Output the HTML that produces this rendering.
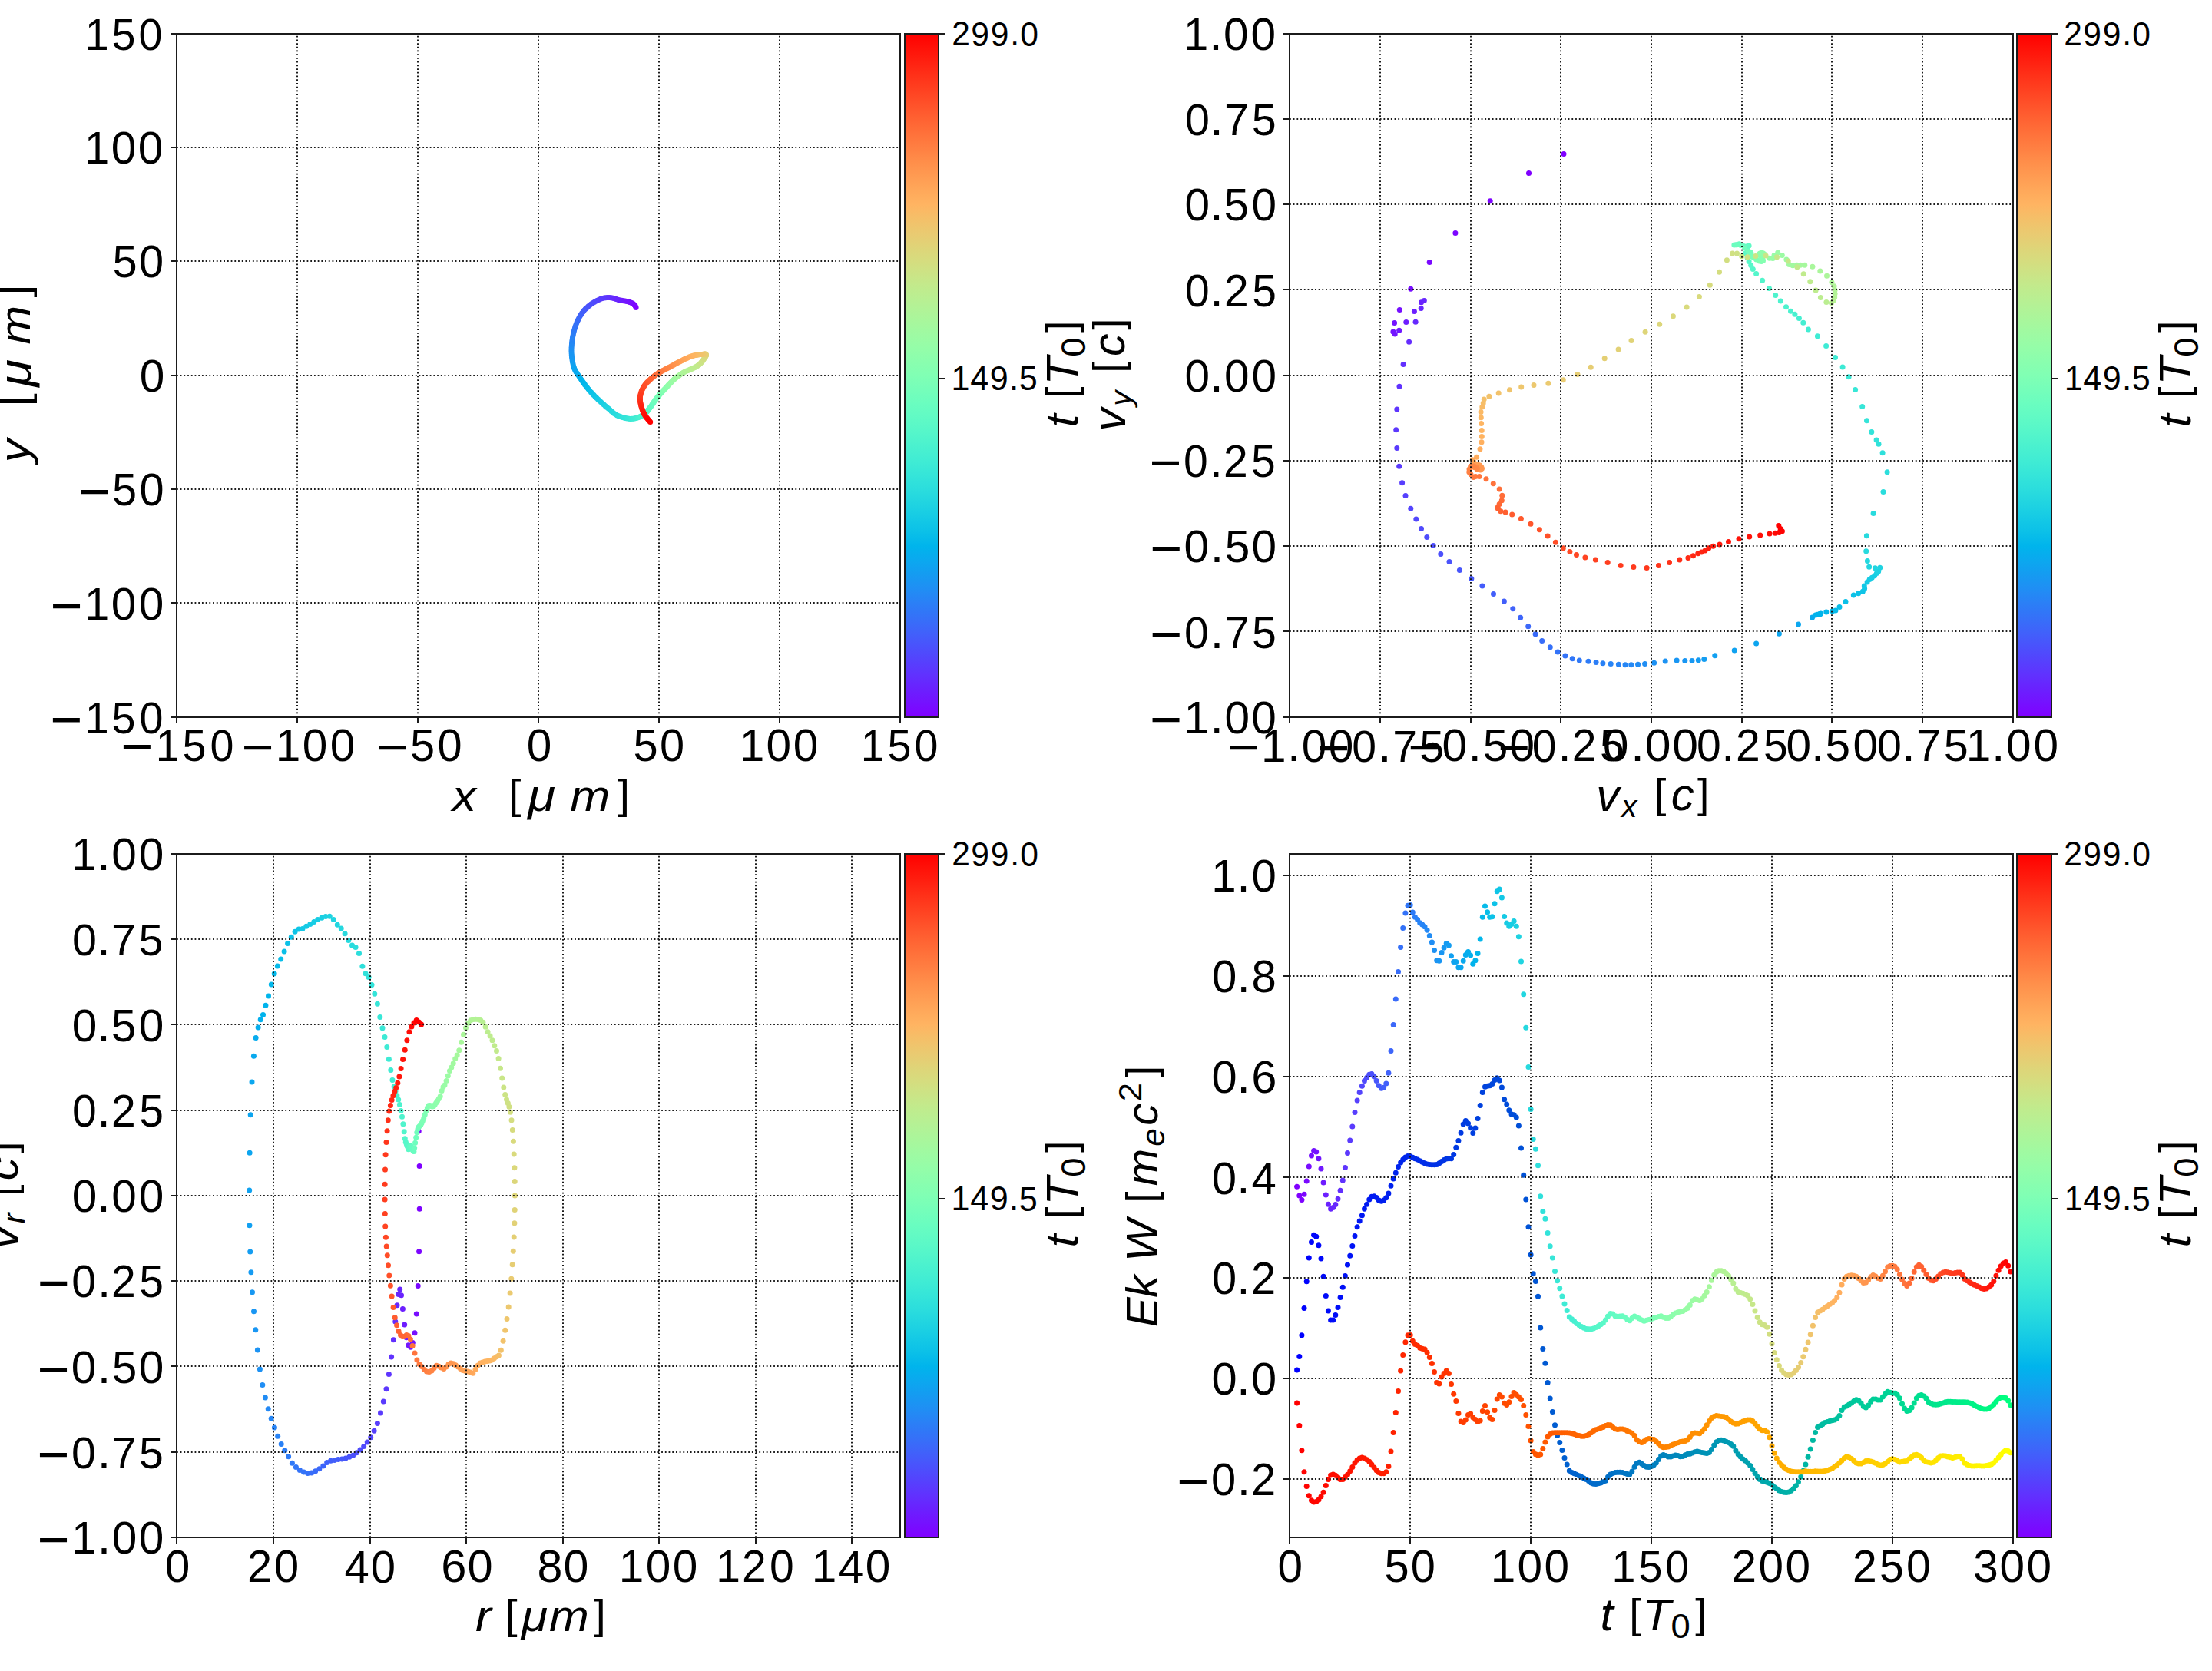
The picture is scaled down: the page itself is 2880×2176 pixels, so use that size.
<!DOCTYPE html>
<html><head><meta charset="utf-8"><title>particle trajectory</title>
<style>html,body{margin:0;padding:0;background:#fff}svg{display:block}</style></head>
<body>
<svg width="2880" height="2176" viewBox="0 0 2880 2176">
<defs>
<linearGradient id="rb" x1="0" y1="0" x2="0" y2="1"><stop offset="0.0000" stop-color="#ff0000"/><stop offset="0.0208" stop-color="#ff1108"/><stop offset="0.0417" stop-color="#ff2111"/><stop offset="0.0625" stop-color="#ff3219"/><stop offset="0.0833" stop-color="#ff4221"/><stop offset="0.1042" stop-color="#ff522a"/><stop offset="0.1250" stop-color="#ff6232"/><stop offset="0.1458" stop-color="#ff713a"/><stop offset="0.1667" stop-color="#ff7f42"/><stop offset="0.1875" stop-color="#ff8e4a"/><stop offset="0.2083" stop-color="#ff9b52"/><stop offset="0.2292" stop-color="#ffa85a"/><stop offset="0.2500" stop-color="#ffb462"/><stop offset="0.2708" stop-color="#f4c069"/><stop offset="0.2917" stop-color="#eaca71"/><stop offset="0.3125" stop-color="#dfd478"/><stop offset="0.3333" stop-color="#d5dd7f"/><stop offset="0.3542" stop-color="#cae587"/><stop offset="0.3750" stop-color="#bfec8e"/><stop offset="0.3958" stop-color="#b5f195"/><stop offset="0.4167" stop-color="#aaf69b"/><stop offset="0.4375" stop-color="#9ffaa2"/><stop offset="0.4583" stop-color="#95fda8"/><stop offset="0.4792" stop-color="#8afeae"/><stop offset="0.5000" stop-color="#80ffb4"/><stop offset="0.5208" stop-color="#75feba"/><stop offset="0.5417" stop-color="#6afdc0"/><stop offset="0.5625" stop-color="#60fac5"/><stop offset="0.5833" stop-color="#55f6ca"/><stop offset="0.6042" stop-color="#4af1cf"/><stop offset="0.6250" stop-color="#40ecd4"/><stop offset="0.6458" stop-color="#35e5d9"/><stop offset="0.6667" stop-color="#2bdddd"/><stop offset="0.6875" stop-color="#20d4e1"/><stop offset="0.7083" stop-color="#15cae5"/><stop offset="0.7292" stop-color="#0bc0e8"/><stop offset="0.7500" stop-color="#00b4ec"/><stop offset="0.7708" stop-color="#0ba8ef"/><stop offset="0.7917" stop-color="#159bf1"/><stop offset="0.8125" stop-color="#208ef4"/><stop offset="0.8333" stop-color="#2b7ff6"/><stop offset="0.8542" stop-color="#3571f8"/><stop offset="0.8750" stop-color="#4062fa"/><stop offset="0.8958" stop-color="#4a52fc"/><stop offset="0.9167" stop-color="#5542fd"/><stop offset="0.9375" stop-color="#6032fe"/><stop offset="0.9583" stop-color="#6a21fe"/><stop offset="0.9792" stop-color="#7511ff"/><stop offset="1.0000" stop-color="#8000ff"/></linearGradient>
<clipPath id="cTL"><rect x="230.4" y="43.5" width="941.7" height="890.2"/></clipPath>
<clipPath id="cTR"><rect x="1679.2" y="43.5" width="941.7" height="890.2"/></clipPath>
<clipPath id="cBL"><rect x="230.4" y="1111.7" width="941.7" height="890.2"/></clipPath>
<clipPath id="cBR"><rect x="1679.2" y="1111.7" width="941.7" height="890.2"/></clipPath>
</defs>
<rect width="2880" height="2176" fill="#fff"/>
<g id="axTL">
<g clip-path="url(#cTL)"><circle cx="828.1" cy="400.5" r="3.5" fill="#8000ff"/><circle cx="827.2" cy="398.6" r="3.5" fill="#8000ff"/><circle cx="825.9" cy="397" r="3.5" fill="#7e03ff"/><circle cx="824.4" cy="395.6" r="3.5" fill="#7c06ff"/><circle cx="822.6" cy="394.5" r="3.5" fill="#7a09ff"/><circle cx="820.6" cy="393.7" r="3.5" fill="#780dff"/><circle cx="818.4" cy="393" r="3.5" fill="#7610ff"/><circle cx="816.2" cy="392.5" r="3.5" fill="#7413ff"/><circle cx="814" cy="392.1" r="3.5" fill="#7413ff"/><circle cx="811.7" cy="391.7" r="3.5" fill="#7216ff"/><circle cx="809.5" cy="391.3" r="3.5" fill="#7019ff"/><circle cx="807.4" cy="390.9" r="3.5" fill="#6e1cff"/><circle cx="805.3" cy="390.4" r="3.5" fill="#6c1fff"/><circle cx="803.3" cy="389.8" r="3.5" fill="#6a22fe"/><circle cx="801.3" cy="389.2" r="3.5" fill="#6826fe"/><circle cx="799.3" cy="388.6" r="3.5" fill="#6826fe"/><circle cx="797.3" cy="388" r="3.5" fill="#6629fe"/><circle cx="795.2" cy="387.7" r="3.5" fill="#642cfe"/><circle cx="793.1" cy="387.5" r="3.5" fill="#622ffe"/><circle cx="790.9" cy="387.5" r="3.5" fill="#6032fe"/><circle cx="788.7" cy="387.7" r="3.5" fill="#5e35fe"/><circle cx="786.5" cy="388" r="3.5" fill="#5c38fd"/><circle cx="784.3" cy="388.6" r="3.5" fill="#5a3bfd"/><circle cx="782.1" cy="389.3" r="3.5" fill="#5a3bfd"/><circle cx="779.9" cy="390.2" r="3.5" fill="#583efd"/><circle cx="777.7" cy="391.2" r="3.5" fill="#5641fd"/><circle cx="775.6" cy="392.3" r="3.5" fill="#5444fd"/><circle cx="773.6" cy="393.5" r="3.5" fill="#5247fc"/><circle cx="771.5" cy="394.8" r="3.5" fill="#504afc"/><circle cx="769.6" cy="396.1" r="3.5" fill="#4e4dfc"/><circle cx="767.7" cy="397.6" r="3.5" fill="#4e4dfc"/><circle cx="765.8" cy="399.1" r="3.5" fill="#4c50fc"/><circle cx="764" cy="400.7" r="3.5" fill="#4a53fb"/><circle cx="762.3" cy="402.3" r="3.5" fill="#4856fb"/><circle cx="760.7" cy="404.1" r="3.5" fill="#4659fb"/><circle cx="759.2" cy="405.9" r="3.5" fill="#445cfb"/><circle cx="757.7" cy="407.7" r="3.5" fill="#425ffa"/><circle cx="756.4" cy="409.7" r="3.5" fill="#425ffa"/><circle cx="755.2" cy="411.6" r="3.5" fill="#4062fa"/><circle cx="754" cy="413.7" r="3.5" fill="#3d65fa"/><circle cx="752.9" cy="415.9" r="3.5" fill="#3c68f9"/><circle cx="751.9" cy="418.1" r="3.5" fill="#396bf9"/><circle cx="750.9" cy="420.3" r="3.5" fill="#386df9"/><circle cx="750" cy="422.7" r="3.5" fill="#3570f8"/><circle cx="749.1" cy="425.1" r="3.5" fill="#3473f8"/><circle cx="748.4" cy="427.5" r="3.5" fill="#3473f8"/><circle cx="747.6" cy="429.9" r="3.5" fill="#3176f8"/><circle cx="747" cy="432.4" r="3.5" fill="#3079f7"/><circle cx="746.4" cy="434.9" r="3.5" fill="#2d7bf7"/><circle cx="745.9" cy="437.4" r="3.5" fill="#2c7ef7"/><circle cx="745.4" cy="439.9" r="3.5" fill="#2981f6"/><circle cx="745.1" cy="442.4" r="3.5" fill="#2884f6"/><circle cx="744.7" cy="444.9" r="3.5" fill="#2884f6"/><circle cx="744.5" cy="447.4" r="3.5" fill="#2586f5"/><circle cx="744.3" cy="449.9" r="3.5" fill="#2489f5"/><circle cx="744.1" cy="452.4" r="3.5" fill="#218cf4"/><circle cx="744" cy="454.9" r="3.5" fill="#208ef4"/><circle cx="744" cy="457.4" r="3.5" fill="#1d91f3"/><circle cx="744.1" cy="459.9" r="3.5" fill="#1c93f3"/><circle cx="744.3" cy="462.4" r="3.5" fill="#1996f3"/><circle cx="744.5" cy="464.9" r="3.5" fill="#1996f3"/><circle cx="744.9" cy="467.4" r="3.5" fill="#1898f2"/><circle cx="745.2" cy="469.8" r="3.5" fill="#159bf2"/><circle cx="745.7" cy="472.3" r="3.5" fill="#149df1"/><circle cx="746.2" cy="474.7" r="3.5" fill="#11a0f1"/><circle cx="746.8" cy="477.2" r="3.5" fill="#10a2f0"/><circle cx="747.6" cy="479.5" r="3.5" fill="#0da5ef"/><circle cx="748.6" cy="481.8" r="3.5" fill="#0da5ef"/><circle cx="749.8" cy="484" r="3.5" fill="#0ca7ef"/><circle cx="751.2" cy="486.1" r="3.5" fill="#09a9ee"/><circle cx="752.6" cy="488.2" r="3.5" fill="#08acee"/><circle cx="754.1" cy="490.3" r="3.5" fill="#05aeed"/><circle cx="755.5" cy="492.4" r="3.5" fill="#04b0ed"/><circle cx="757" cy="494.5" r="3.5" fill="#01b3ec"/><circle cx="758.4" cy="496.5" r="3.5" fill="#01b3ec"/><circle cx="759.9" cy="498.6" r="3.5" fill="#00b5eb"/><circle cx="761.3" cy="500.7" r="3.5" fill="#02b7eb"/><circle cx="762.9" cy="502.7" r="3.5" fill="#05b9ea"/><circle cx="764.5" cy="504.8" r="3.5" fill="#07bbea"/><circle cx="766.1" cy="506.8" r="3.5" fill="#08bee9"/><circle cx="767.7" cy="508.8" r="3.5" fill="#0ac0e8"/><circle cx="769.5" cy="510.7" r="3.5" fill="#0dc2e8"/><circle cx="771.2" cy="512.6" r="3.5" fill="#0dc2e8"/><circle cx="773.1" cy="514.5" r="3.5" fill="#0fc4e7"/><circle cx="774.9" cy="516.4" r="3.5" fill="#10c6e6"/><circle cx="776.8" cy="518.2" r="3.5" fill="#12c8e6"/><circle cx="778.6" cy="520" r="3.5" fill="#15cae5"/><circle cx="780.5" cy="521.8" r="3.5" fill="#17cbe4"/><circle cx="782.4" cy="523.6" r="3.5" fill="#18cde4"/><circle cx="784.3" cy="525.3" r="3.5" fill="#18cde4"/><circle cx="786.3" cy="527.1" r="3.5" fill="#1acfe3"/><circle cx="788.2" cy="528.8" r="3.5" fill="#1dd1e2"/><circle cx="790.2" cy="530.5" r="3.5" fill="#1fd3e1"/><circle cx="792.2" cy="532.1" r="3.5" fill="#20d5e1"/><circle cx="794.1" cy="533.8" r="3.5" fill="#22d6e0"/><circle cx="796" cy="535.4" r="3.5" fill="#25d8df"/><circle cx="797.8" cy="537" r="3.5" fill="#27dade"/><circle cx="799.7" cy="538.5" r="3.5" fill="#27dade"/><circle cx="801.6" cy="539.8" r="3.5" fill="#28dbde"/><circle cx="803.6" cy="540.9" r="3.5" fill="#2adddd"/><circle cx="805.6" cy="541.8" r="3.5" fill="#2ddedc"/><circle cx="807.6" cy="542.6" r="3.5" fill="#2fe0db"/><circle cx="809.6" cy="543.2" r="3.5" fill="#30e1da"/><circle cx="811.6" cy="543.8" r="3.5" fill="#32e3da"/><circle cx="813.5" cy="544.3" r="3.5" fill="#32e3da"/><circle cx="815.4" cy="544.7" r="3.5" fill="#35e4d9"/><circle cx="817.3" cy="545.1" r="3.5" fill="#37e6d8"/><circle cx="819.1" cy="545.3" r="3.5" fill="#38e7d7"/><circle cx="820.8" cy="545.4" r="3.5" fill="#3ae8d6"/><circle cx="822.5" cy="545.3" r="3.5" fill="#3dead5"/><circle cx="824.1" cy="545.2" r="3.5" fill="#3febd5"/><circle cx="825.7" cy="545" r="3.5" fill="#3febd5"/><circle cx="827.2" cy="544.7" r="3.5" fill="#40ecd4"/><circle cx="828.6" cy="544.3" r="3.5" fill="#42edd3"/><circle cx="829.9" cy="543.9" r="3.5" fill="#45eed2"/><circle cx="831.2" cy="543.4" r="3.5" fill="#46efd1"/><circle cx="832.5" cy="542.9" r="3.5" fill="#48f1d0"/><circle cx="833.7" cy="542.4" r="3.5" fill="#4af2cf"/><circle cx="834.9" cy="541.8" r="3.5" fill="#4df3ce"/><circle cx="836" cy="541.2" r="3.5" fill="#4df3ce"/><circle cx="837.1" cy="540.5" r="3.5" fill="#4ef3cd"/><circle cx="838.2" cy="539.8" r="3.5" fill="#50f4cc"/><circle cx="839.2" cy="539" r="3.5" fill="#52f5cb"/><circle cx="840.1" cy="538.2" r="3.5" fill="#55f6cb"/><circle cx="841" cy="537.3" r="3.5" fill="#56f7ca"/><circle cx="841.9" cy="536.3" r="3.5" fill="#58f8c9"/><circle cx="842.7" cy="535.4" r="3.5" fill="#58f8c9"/><circle cx="843.6" cy="534.3" r="3.5" fill="#5af8c8"/><circle cx="844.4" cy="533.3" r="3.5" fill="#5df9c7"/><circle cx="845.2" cy="532.2" r="3.5" fill="#5efac6"/><circle cx="846.1" cy="531.1" r="3.5" fill="#60fac5"/><circle cx="846.9" cy="530" r="3.5" fill="#62fbc4"/><circle cx="847.7" cy="528.9" r="3.5" fill="#65fbc3"/><circle cx="848.5" cy="527.8" r="3.5" fill="#66fcc2"/><circle cx="849.3" cy="526.6" r="3.5" fill="#66fcc2"/><circle cx="850" cy="525.5" r="3.5" fill="#68fcc1"/><circle cx="850.8" cy="524.4" r="3.5" fill="#6afdc0"/><circle cx="851.5" cy="523.2" r="3.5" fill="#6dfdbf"/><circle cx="852.3" cy="522.1" r="3.5" fill="#6efebe"/><circle cx="853.1" cy="521" r="3.5" fill="#70febc"/><circle cx="853.9" cy="519.9" r="3.5" fill="#72febb"/><circle cx="854.7" cy="518.8" r="3.5" fill="#72febb"/><circle cx="855.6" cy="517.8" r="3.5" fill="#75feba"/><circle cx="856.5" cy="516.7" r="3.5" fill="#76ffb9"/><circle cx="857.3" cy="515.7" r="3.5" fill="#78ffb8"/><circle cx="858.2" cy="514.6" r="3.5" fill="#7affb7"/><circle cx="859.1" cy="513.6" r="3.5" fill="#7dffb6"/><circle cx="859.9" cy="512.6" r="3.5" fill="#7effb5"/><circle cx="860.8" cy="511.6" r="3.5" fill="#7effb5"/><circle cx="861.8" cy="510.6" r="3.5" fill="#80ffb4"/><circle cx="862.7" cy="509.6" r="3.5" fill="#82ffb3"/><circle cx="863.7" cy="508.6" r="3.5" fill="#84ffb2"/><circle cx="864.6" cy="507.6" r="3.5" fill="#86ffb0"/><circle cx="865.6" cy="506.6" r="3.5" fill="#89ffaf"/><circle cx="866.6" cy="505.5" r="3.5" fill="#8bfeae"/><circle cx="867.5" cy="504.5" r="3.5" fill="#8cfead"/><circle cx="868.4" cy="503.4" r="3.5" fill="#8cfead"/><circle cx="869.4" cy="502.4" r="3.5" fill="#8efeac"/><circle cx="870.3" cy="501.3" r="3.5" fill="#90feab"/><circle cx="871.3" cy="500.3" r="3.5" fill="#92fda9"/><circle cx="872.3" cy="499.2" r="3.5" fill="#94fda8"/><circle cx="873.3" cy="498.2" r="3.5" fill="#96fca7"/><circle cx="874.3" cy="497.2" r="3.5" fill="#99fca6"/><circle cx="875.4" cy="496.1" r="3.5" fill="#99fca6"/><circle cx="876.5" cy="495.1" r="3.5" fill="#9bfba5"/><circle cx="877.6" cy="494" r="3.5" fill="#9cfba4"/><circle cx="878.7" cy="493" r="3.5" fill="#9efaa2"/><circle cx="879.9" cy="492" r="3.5" fill="#a0faa1"/><circle cx="881.1" cy="491.1" r="3.5" fill="#a2f9a0"/><circle cx="882.4" cy="490.1" r="3.5" fill="#a4f89f"/><circle cx="883.7" cy="489.2" r="3.5" fill="#a6f89d"/><circle cx="885" cy="488.2" r="3.5" fill="#a6f89d"/><circle cx="886.3" cy="487.3" r="3.5" fill="#a9f79c"/><circle cx="887.8" cy="486.3" r="3.5" fill="#abf69b"/><circle cx="889.3" cy="485.5" r="3.5" fill="#acf59a"/><circle cx="890.8" cy="484.6" r="3.5" fill="#aef498"/><circle cx="892.4" cy="483.8" r="3.5" fill="#b0f397"/><circle cx="894" cy="483.1" r="3.5" fill="#b2f396"/><circle cx="895.6" cy="482.4" r="3.5" fill="#b2f396"/><circle cx="897.2" cy="481.7" r="3.5" fill="#b4f295"/><circle cx="898.7" cy="481" r="3.5" fill="#b6f193"/><circle cx="900.3" cy="480.4" r="3.5" fill="#b9ef92"/><circle cx="901.9" cy="479.7" r="3.5" fill="#bbee91"/><circle cx="903.4" cy="479.1" r="3.5" fill="#bced8f"/><circle cx="904.8" cy="478.4" r="3.5" fill="#beec8e"/><circle cx="906.2" cy="477.6" r="3.5" fill="#beec8e"/><circle cx="907.6" cy="476.7" r="3.5" fill="#c0eb8d"/><circle cx="908.9" cy="475.8" r="3.5" fill="#c2ea8c"/><circle cx="910.1" cy="474.9" r="3.5" fill="#c4e88a"/><circle cx="911.2" cy="473.9" r="3.5" fill="#c6e789"/><circle cx="912.3" cy="472.8" r="3.5" fill="#c9e688"/><circle cx="913.2" cy="471.8" r="3.5" fill="#cbe486"/><circle cx="914.1" cy="470.8" r="3.5" fill="#cce385"/><circle cx="914.9" cy="469.7" r="3.5" fill="#cce385"/><circle cx="915.6" cy="468.7" r="3.5" fill="#cee184"/><circle cx="916.4" cy="467.6" r="3.5" fill="#d0e082"/><circle cx="917.1" cy="466.6" r="3.5" fill="#d2de81"/><circle cx="917.7" cy="465.7" r="3.5" fill="#d4dd80"/><circle cx="918.2" cy="464.8" r="3.5" fill="#d6db7e"/><circle cx="918.7" cy="464.1" r="3.5" fill="#d9da7d"/><circle cx="919" cy="463.5" r="3.5" fill="#d9da7d"/><circle cx="919.3" cy="462.9" r="3.5" fill="#dbd87b"/><circle cx="919.4" cy="462.4" r="3.5" fill="#dcd67a"/><circle cx="919.4" cy="462" r="3.5" fill="#ded579"/><circle cx="919.3" cy="461.7" r="3.5" fill="#e0d377"/><circle cx="919.1" cy="461.4" r="3.5" fill="#e2d176"/><circle cx="918.7" cy="461.2" r="3.5" fill="#e4cf74"/><circle cx="918.3" cy="461.1" r="3.5" fill="#e6cd73"/><circle cx="917.7" cy="461.1" r="3.5" fill="#e6cd73"/><circle cx="917" cy="461.1" r="3.5" fill="#e9cb72"/><circle cx="916.2" cy="461.2" r="3.5" fill="#ebca70"/><circle cx="915.2" cy="461.3" r="3.5" fill="#ecc86f"/><circle cx="914.1" cy="461.4" r="3.5" fill="#eec66d"/><circle cx="912.9" cy="461.5" r="3.5" fill="#f0c46c"/><circle cx="911.7" cy="461.6" r="3.5" fill="#f2c26b"/><circle cx="910.3" cy="461.8" r="3.5" fill="#f2c26b"/><circle cx="908.9" cy="462" r="3.5" fill="#f4c069"/><circle cx="907.4" cy="462.2" r="3.5" fill="#f6be68"/><circle cx="906" cy="462.5" r="3.5" fill="#f9bb66"/><circle cx="904.5" cy="462.8" r="3.5" fill="#fbb965"/><circle cx="903" cy="463.1" r="3.5" fill="#fcb763"/><circle cx="901.5" cy="463.5" r="3.5" fill="#feb562"/><circle cx="900" cy="464" r="3.5" fill="#feb562"/><circle cx="898.6" cy="464.5" r="3.5" fill="#ffb360"/><circle cx="897.1" cy="465.1" r="3.5" fill="#ffb05f"/><circle cx="895.6" cy="465.7" r="3.5" fill="#ffae5e"/><circle cx="894.1" cy="466.4" r="3.5" fill="#ffac5c"/><circle cx="892.6" cy="467.1" r="3.5" fill="#ffa95b"/><circle cx="891" cy="467.8" r="3.5" fill="#ffa759"/><circle cx="889.5" cy="468.6" r="3.5" fill="#ffa558"/><circle cx="888" cy="469.4" r="3.5" fill="#ffa558"/><circle cx="886.4" cy="470.2" r="3.5" fill="#ffa256"/><circle cx="884.9" cy="470.9" r="3.5" fill="#ffa055"/><circle cx="883.4" cy="471.7" r="3.5" fill="#ff9d53"/><circle cx="881.9" cy="472.5" r="3.5" fill="#ff9b52"/><circle cx="880.4" cy="473.3" r="3.5" fill="#ff9850"/><circle cx="879" cy="474.1" r="3.5" fill="#ff964f"/><circle cx="877.5" cy="474.9" r="3.5" fill="#ff964f"/><circle cx="876" cy="475.8" r="3.5" fill="#ff934d"/><circle cx="874.5" cy="476.6" r="3.5" fill="#ff914c"/><circle cx="872.9" cy="477.4" r="3.5" fill="#ff8e4a"/><circle cx="871.4" cy="478.2" r="3.5" fill="#ff8c49"/><circle cx="869.9" cy="479" r="3.5" fill="#ff8947"/><circle cx="868.4" cy="479.8" r="3.5" fill="#ff8646"/><circle cx="866.8" cy="480.6" r="3.5" fill="#ff8444"/><circle cx="865.2" cy="481.4" r="3.5" fill="#ff8444"/><circle cx="863.7" cy="482.2" r="3.5" fill="#ff8143"/><circle cx="862.1" cy="483.1" r="3.5" fill="#ff7e41"/><circle cx="860.5" cy="484" r="3.5" fill="#ff7b40"/><circle cx="859" cy="484.8" r="3.5" fill="#ff793e"/><circle cx="857.5" cy="485.7" r="3.5" fill="#ff763d"/><circle cx="856" cy="486.6" r="3.5" fill="#ff733b"/><circle cx="854.6" cy="487.5" r="3.5" fill="#ff733b"/><circle cx="853.3" cy="488.5" r="3.5" fill="#ff703a"/><circle cx="852" cy="489.5" r="3.5" fill="#ff6d38"/><circle cx="850.7" cy="490.6" r="3.5" fill="#ff6b37"/><circle cx="849.4" cy="491.7" r="3.5" fill="#ff6835"/><circle cx="848" cy="492.8" r="3.5" fill="#ff6533"/><circle cx="846.7" cy="494" r="3.5" fill="#ff6232"/><circle cx="845.4" cy="495.2" r="3.5" fill="#ff6232"/><circle cx="844.1" cy="496.4" r="3.5" fill="#ff5f30"/><circle cx="842.9" cy="497.6" r="3.5" fill="#ff5c2f"/><circle cx="841.7" cy="498.8" r="3.5" fill="#ff592d"/><circle cx="840.6" cy="500.1" r="3.5" fill="#ff562c"/><circle cx="839.6" cy="501.4" r="3.5" fill="#ff532a"/><circle cx="838.6" cy="502.8" r="3.5" fill="#ff5029"/><circle cx="837.8" cy="504.2" r="3.5" fill="#ff4d27"/><circle cx="837" cy="505.7" r="3.5" fill="#ff4d27"/><circle cx="836.2" cy="507.2" r="3.5" fill="#ff4a26"/><circle cx="835.6" cy="508.7" r="3.5" fill="#ff4724"/><circle cx="835" cy="510.3" r="3.5" fill="#ff4422"/><circle cx="834.4" cy="511.9" r="3.5" fill="#ff4121"/><circle cx="834" cy="513.5" r="3.5" fill="#ff3e1f"/><circle cx="833.7" cy="515.2" r="3.5" fill="#ff3b1e"/><circle cx="833.5" cy="516.8" r="3.5" fill="#ff3b1e"/><circle cx="833.4" cy="518.5" r="3.5" fill="#ff381c"/><circle cx="833.4" cy="520.2" r="3.5" fill="#ff351b"/><circle cx="833.5" cy="521.8" r="3.5" fill="#ff3219"/><circle cx="833.7" cy="523.4" r="3.5" fill="#ff2f18"/><circle cx="834" cy="525" r="3.5" fill="#ff2c16"/><circle cx="834.3" cy="526.6" r="3.5" fill="#ff2914"/><circle cx="834.7" cy="528.2" r="3.5" fill="#ff2613"/><circle cx="835.1" cy="529.7" r="3.5" fill="#ff2613"/><circle cx="835.6" cy="531.3" r="3.5" fill="#ff2211"/><circle cx="836" cy="532.8" r="3.5" fill="#ff1f10"/><circle cx="836.6" cy="534.3" r="3.5" fill="#ff1c0e"/><circle cx="837.1" cy="535.8" r="3.5" fill="#ff190d"/><circle cx="837.8" cy="537.2" r="3.5" fill="#ff160b"/><circle cx="838.5" cy="538.7" r="3.5" fill="#ff1309"/><circle cx="839.3" cy="540.1" r="3.5" fill="#ff1309"/><circle cx="840.2" cy="541.5" r="3.5" fill="#ff1008"/><circle cx="841.2" cy="542.9" r="3.5" fill="#ff0d06"/><circle cx="842.2" cy="544.2" r="3.5" fill="#ff0905"/><circle cx="843.3" cy="545.6" r="3.5" fill="#ff0603"/><circle cx="844.4" cy="547" r="3.5" fill="#ff0302"/><circle cx="845.6" cy="548.3" r="3.5" fill="#ff0000"/><circle cx="846.7" cy="549.6" r="3.5" fill="#ff0000"/></g>
<g stroke="#1b1b1b" stroke-width="2" stroke-dasharray="1.78 2.93" fill="none"><path d="M387 934V44"/><path d="M544 934V44"/><path d="M701 934V44"/><path d="M858 934V44"/><path d="M1015 934V44"/><path d="M230 785H1172"/><path d="M230 637H1172"/><path d="M230 489H1172"/><path d="M230 340H1172"/><path d="M230 192H1172"/></g>
<g stroke="#1b1b1b" stroke-width="2" fill="none"><path d="M230 934v8"/><path d="M387 934v8"/><path d="M544 934v8"/><path d="M701 934v8"/><path d="M858 934v8"/><path d="M1015 934v8"/><path d="M1172 934v8"/><path d="M230 934h-8"/><path d="M230 785h-8"/><path d="M230 637h-8"/><path d="M230 489h-8"/><path d="M230 340h-8"/><path d="M230 192h-8"/><path d="M230 44h-8"/><rect x="230" y="44" width="942" height="890"/></g>
<rect x="1178" y="44" width="44" height="890" fill="url(#rb)" stroke="#1b1b1b" stroke-width="2"/>
<path d="M1222 44h8M1222 493h8" stroke="#1b1b1b" stroke-width="2" fill="none"/>
</g>
<g id="axTR">
<g clip-path="url(#cTR)"><circle cx="2036" cy="200.4" r="3.5" fill="#8000ff"/><circle cx="1990.5" cy="225.6" r="3.5" fill="#8000ff"/><circle cx="1940.2" cy="261.8" r="3.5" fill="#7e03ff"/><circle cx="1894.9" cy="303.4" r="3.5" fill="#7c06ff"/><circle cx="1861.2" cy="341.4" r="3.5" fill="#7a09ff"/><circle cx="1836.8" cy="376.2" r="3.5" fill="#780dff"/><circle cx="1822.3" cy="403.4" r="3.5" fill="#7610ff"/><circle cx="1815.6" cy="420.5" r="3.5" fill="#7413ff"/><circle cx="1813.9" cy="431.9" r="3.5" fill="#7413ff"/><circle cx="1816.2" cy="435.1" r="3.5" fill="#7216ff"/><circle cx="1821.7" cy="430.3" r="3.5" fill="#7019ff"/><circle cx="1830.8" cy="419.6" r="3.5" fill="#6e1cff"/><circle cx="1841.4" cy="405.4" r="3.5" fill="#6c1fff"/><circle cx="1850.5" cy="393.7" r="3.5" fill="#6a22fe"/><circle cx="1854.3" cy="391.6" r="3.5" fill="#6826fe"/><circle cx="1850.2" cy="401.6" r="3.5" fill="#6826fe"/><circle cx="1843.1" cy="419.3" r="3.5" fill="#6629fe"/><circle cx="1834.6" cy="445.2" r="3.5" fill="#642cfe"/><circle cx="1827.1" cy="474.4" r="3.5" fill="#622ffe"/><circle cx="1822" cy="503.2" r="3.5" fill="#6032fe"/><circle cx="1818.8" cy="533" r="3.5" fill="#5e35fe"/><circle cx="1817.7" cy="559.8" r="3.5" fill="#5c38fd"/><circle cx="1818.8" cy="583.6" r="3.5" fill="#5a3bfd"/><circle cx="1821.7" cy="607.2" r="3.5" fill="#5a3bfd"/><circle cx="1825.6" cy="628.7" r="3.5" fill="#583efd"/><circle cx="1830" cy="645.6" r="3.5" fill="#5641fd"/><circle cx="1836.8" cy="662.3" r="3.5" fill="#5444fd"/><circle cx="1843.8" cy="676.1" r="3.5" fill="#5247fc"/><circle cx="1850.5" cy="688.4" r="3.5" fill="#504afc"/><circle cx="1857.8" cy="699.5" r="3.5" fill="#4e4dfc"/><circle cx="1866.1" cy="710.4" r="3.5" fill="#4e4dfc"/><circle cx="1875.8" cy="721.5" r="3.5" fill="#4c50fc"/><circle cx="1887" cy="731.5" r="3.5" fill="#4a53fb"/><circle cx="1900.4" cy="742.4" r="3.5" fill="#4856fb"/><circle cx="1915.8" cy="753.4" r="3.5" fill="#4659fb"/><circle cx="1929.9" cy="763" r="3.5" fill="#445cfb"/><circle cx="1944.5" cy="773.4" r="3.5" fill="#425ffa"/><circle cx="1958.4" cy="783" r="3.5" fill="#425ffa"/><circle cx="1969.8" cy="792.7" r="3.5" fill="#4062fa"/><circle cx="1979.6" cy="804.3" r="3.5" fill="#3d65fa"/><circle cx="1989.7" cy="815.7" r="3.5" fill="#3c68f9"/><circle cx="1999.1" cy="825.7" r="3.5" fill="#396bf9"/><circle cx="2007.7" cy="834.6" r="3.5" fill="#386df9"/><circle cx="2018.3" cy="842.7" r="3.5" fill="#3570f8"/><circle cx="2028.3" cy="848.9" r="3.5" fill="#3473f8"/><circle cx="2037.9" cy="854" r="3.5" fill="#3473f8"/><circle cx="2047.2" cy="857.7" r="3.5" fill="#3176f8"/><circle cx="2056.3" cy="860" r="3.5" fill="#3079f7"/><circle cx="2068" cy="861.2" r="3.5" fill="#2d7bf7"/><circle cx="2078.1" cy="862.6" r="3.5" fill="#2c7ef7"/><circle cx="2086.9" cy="863.7" r="3.5" fill="#2981f6"/><circle cx="2097.2" cy="864.6" r="3.5" fill="#2884f6"/><circle cx="2107.4" cy="865.3" r="3.5" fill="#2884f6"/><circle cx="2116" cy="865.8" r="3.5" fill="#2586f5"/><circle cx="2123.8" cy="865.7" r="3.5" fill="#2489f5"/><circle cx="2132.6" cy="865.3" r="3.5" fill="#218cf4"/><circle cx="2141.6" cy="864.6" r="3.5" fill="#208ef4"/><circle cx="2153.6" cy="863.3" r="3.5" fill="#1d91f3"/><circle cx="2168.2" cy="861" r="3.5" fill="#1c93f3"/><circle cx="2183.1" cy="860.1" r="3.5" fill="#1996f3"/><circle cx="2193.8" cy="860.6" r="3.5" fill="#1996f3"/><circle cx="2203" cy="860.4" r="3.5" fill="#1898f2"/><circle cx="2211.3" cy="859.8" r="3.5" fill="#159bf2"/><circle cx="2218.8" cy="858.4" r="3.5" fill="#149df1"/><circle cx="2232.8" cy="853.8" r="3.5" fill="#11a0f1"/><circle cx="2258.2" cy="847" r="3.5" fill="#10a2f0"/><circle cx="2286.6" cy="838.1" r="3.5" fill="#0da5ef"/><circle cx="2316.4" cy="825.3" r="3.5" fill="#0da5ef"/><circle cx="2341.5" cy="813" r="3.5" fill="#0ca7ef"/><circle cx="2359.6" cy="804.1" r="3.5" fill="#09a9ee"/><circle cx="2369.6" cy="799.4" r="3.5" fill="#08acee"/><circle cx="2370.6" cy="799" r="3.5" fill="#05aeed"/><circle cx="2368.9" cy="799.7" r="3.5" fill="#04b0ed"/><circle cx="2363.8" cy="801" r="3.5" fill="#01b3ec"/><circle cx="2366.2" cy="800.3" r="3.5" fill="#01b3ec"/><circle cx="2369.9" cy="799.4" r="3.5" fill="#00b5eb"/><circle cx="2377.8" cy="796.9" r="3.5" fill="#02b7eb"/><circle cx="2385.8" cy="795.8" r="3.5" fill="#05b9ea"/><circle cx="2389.9" cy="795" r="3.5" fill="#07bbea"/><circle cx="2395" cy="790.4" r="3.5" fill="#08bee9"/><circle cx="2403" cy="783.4" r="3.5" fill="#0ac0e8"/><circle cx="2413.3" cy="775" r="3.5" fill="#0dc2e8"/><circle cx="2419.6" cy="772.7" r="3.5" fill="#0dc2e8"/><circle cx="2425.3" cy="770.3" r="3.5" fill="#0fc4e7"/><circle cx="2427.6" cy="766.6" r="3.5" fill="#10c6e6"/><circle cx="2427.3" cy="763" r="3.5" fill="#12c8e6"/><circle cx="2431.1" cy="758.1" r="3.5" fill="#15cae5"/><circle cx="2434.2" cy="754.6" r="3.5" fill="#17cbe4"/><circle cx="2437.3" cy="752.3" r="3.5" fill="#18cde4"/><circle cx="2440.7" cy="749.7" r="3.5" fill="#18cde4"/><circle cx="2443.4" cy="746.6" r="3.5" fill="#1acfe3"/><circle cx="2445.7" cy="744.1" r="3.5" fill="#1dd1e2"/><circle cx="2447.7" cy="739.2" r="3.5" fill="#1fd3e1"/><circle cx="2441.4" cy="739.7" r="3.5" fill="#20d5e1"/><circle cx="2433.6" cy="738.3" r="3.5" fill="#22d6e0"/><circle cx="2431.4" cy="730.4" r="3.5" fill="#25d8df"/><circle cx="2429.7" cy="717.8" r="3.5" fill="#27dade"/><circle cx="2430.4" cy="697.8" r="3.5" fill="#27dade"/><circle cx="2439.1" cy="668.4" r="3.5" fill="#28dbde"/><circle cx="2452" cy="640.5" r="3.5" fill="#2adddd"/><circle cx="2457.1" cy="614.8" r="3.5" fill="#2ddedc"/><circle cx="2451.1" cy="589.8" r="3.5" fill="#2fe0db"/><circle cx="2446" cy="578.2" r="3.5" fill="#30e1da"/><circle cx="2443.1" cy="572.9" r="3.5" fill="#32e3da"/><circle cx="2436.8" cy="562.4" r="3.5" fill="#32e3da"/><circle cx="2430.5" cy="547.8" r="3.5" fill="#35e4d9"/><circle cx="2424.7" cy="529.5" r="3.5" fill="#37e6d8"/><circle cx="2415.6" cy="507.6" r="3.5" fill="#38e7d7"/><circle cx="2407.1" cy="490.7" r="3.5" fill="#3ae8d6"/><circle cx="2399.1" cy="478.1" r="3.5" fill="#3dead5"/><circle cx="2389.5" cy="465.6" r="3.5" fill="#3febd5"/><circle cx="2377.6" cy="450.4" r="3.5" fill="#3febd5"/><circle cx="2366.4" cy="437.8" r="3.5" fill="#40ecd4"/><circle cx="2354.4" cy="429.1" r="3.5" fill="#42edd3"/><circle cx="2347.8" cy="420.3" r="3.5" fill="#45eed2"/><circle cx="2342.4" cy="414.5" r="3.5" fill="#46efd1"/><circle cx="2336.9" cy="409.3" r="3.5" fill="#48f1d0"/><circle cx="2331.5" cy="405.3" r="3.5" fill="#4af2cf"/><circle cx="2325.5" cy="399.7" r="3.5" fill="#4df3ce"/><circle cx="2318.3" cy="392" r="3.5" fill="#4df3ce"/><circle cx="2311.7" cy="384.4" r="3.5" fill="#4ef3cd"/><circle cx="2303.4" cy="375.4" r="3.5" fill="#50f4cc"/><circle cx="2294.6" cy="365.3" r="3.5" fill="#52f5cb"/><circle cx="2286.6" cy="356.5" r="3.5" fill="#55f6cb"/><circle cx="2282.3" cy="350.4" r="3.5" fill="#56f7ca"/><circle cx="2279.7" cy="345.4" r="3.5" fill="#58f8c9"/><circle cx="2277.1" cy="340.4" r="3.5" fill="#58f8c9"/><circle cx="2275.1" cy="335.7" r="3.5" fill="#5af8c8"/><circle cx="2272.4" cy="330.1" r="3.5" fill="#5df9c7"/><circle cx="2274.5" cy="324.3" r="3.5" fill="#5efac6"/><circle cx="2277.1" cy="320.1" r="3.5" fill="#60fac5"/><circle cx="2274.9" cy="320.7" r="3.5" fill="#62fbc4"/><circle cx="2271.7" cy="321.1" r="3.5" fill="#65fbc3"/><circle cx="2268.4" cy="319.2" r="3.5" fill="#66fcc2"/><circle cx="2264.4" cy="317.8" r="3.5" fill="#66fcc2"/><circle cx="2260.4" cy="318.7" r="3.5" fill="#68fcc1"/><circle cx="2257.9" cy="319.1" r="3.5" fill="#6afdc0"/><circle cx="2261.5" cy="318.7" r="3.5" fill="#6dfdbf"/><circle cx="2266.6" cy="319.6" r="3.5" fill="#6efebe"/><circle cx="2271.7" cy="322.9" r="3.5" fill="#70febc"/><circle cx="2276" cy="327.2" r="3.5" fill="#72febb"/><circle cx="2278.9" cy="328.3" r="3.5" fill="#72febb"/><circle cx="2280" cy="330.1" r="3.5" fill="#75feba"/><circle cx="2279.2" cy="331.9" r="3.5" fill="#76ffb9"/><circle cx="2278.9" cy="333.4" r="3.5" fill="#78ffb8"/><circle cx="2280" cy="333.7" r="3.5" fill="#7affb7"/><circle cx="2281.8" cy="334.4" r="3.5" fill="#7dffb6"/><circle cx="2284" cy="335.9" r="3.5" fill="#7effb5"/><circle cx="2286.8" cy="338.1" r="3.5" fill="#7effb5"/><circle cx="2290.5" cy="339.9" r="3.5" fill="#80ffb4"/><circle cx="2293.4" cy="340.6" r="3.5" fill="#82ffb3"/><circle cx="2295.5" cy="339.5" r="3.5" fill="#84ffb2"/><circle cx="2294.8" cy="337.3" r="3.5" fill="#86ffb0"/><circle cx="2293" cy="335.2" r="3.5" fill="#89ffaf"/><circle cx="2291.2" cy="332.6" r="3.5" fill="#8bfeae"/><circle cx="2290.5" cy="330.8" r="3.5" fill="#8cfead"/><circle cx="2291.5" cy="330" r="3.5" fill="#8cfead"/><circle cx="2293" cy="329.5" r="3.5" fill="#8efeac"/><circle cx="2294.4" cy="329.5" r="3.5" fill="#90feab"/><circle cx="2295.9" cy="330.1" r="3.5" fill="#92fda9"/><circle cx="2297.7" cy="331.6" r="3.5" fill="#94fda8"/><circle cx="2303.8" cy="336.3" r="3.5" fill="#96fca7"/><circle cx="2308.2" cy="336.6" r="3.5" fill="#99fca6"/><circle cx="2310" cy="332.6" r="3.5" fill="#99fca6"/><circle cx="2314.7" cy="329" r="3.5" fill="#9bfba5"/><circle cx="2320.3" cy="332.4" r="3.5" fill="#9cfba4"/><circle cx="2325.9" cy="338.1" r="3.5" fill="#9efaa2"/><circle cx="2329.5" cy="344.6" r="3.5" fill="#a0faa1"/><circle cx="2334.2" cy="345.7" r="3.5" fill="#a2f9a0"/><circle cx="2339.7" cy="345.3" r="3.5" fill="#a4f89f"/><circle cx="2344" cy="345.2" r="3.5" fill="#a6f89d"/><circle cx="2349.8" cy="345.2" r="3.5" fill="#a6f89d"/><circle cx="2359.9" cy="347.3" r="3.5" fill="#a9f79c"/><circle cx="2369.8" cy="352.9" r="3.5" fill="#abf69b"/><circle cx="2378.5" cy="359.3" r="3.5" fill="#acf59a"/><circle cx="2384.9" cy="367.6" r="3.5" fill="#aef498"/><circle cx="2388.1" cy="372.8" r="3.5" fill="#b0f397"/><circle cx="2389.1" cy="377.7" r="3.5" fill="#b2f396"/><circle cx="2389.1" cy="382.6" r="3.5" fill="#b2f396"/><circle cx="2388.7" cy="386.9" r="3.5" fill="#b4f295"/><circle cx="2387.6" cy="391.1" r="3.5" fill="#b6f193"/><circle cx="2384.5" cy="394.5" r="3.5" fill="#b9ef92"/><circle cx="2377.9" cy="393.4" r="3.5" fill="#bbee91"/><circle cx="2370.4" cy="387.5" r="3.5" fill="#bced8f"/><circle cx="2364.1" cy="377.9" r="3.5" fill="#beec8e"/><circle cx="2356.8" cy="366.7" r="3.5" fill="#beec8e"/><circle cx="2348.2" cy="356.7" r="3.5" fill="#c0eb8d"/><circle cx="2339.9" cy="347.7" r="3.5" fill="#c2ea8c"/><circle cx="2328.2" cy="340" r="3.5" fill="#c4e88a"/><circle cx="2313.5" cy="334.7" r="3.5" fill="#c6e789"/><circle cx="2299.1" cy="333" r="3.5" fill="#c9e688"/><circle cx="2285.8" cy="333.4" r="3.5" fill="#cbe486"/><circle cx="2275.1" cy="334.8" r="3.5" fill="#cce385"/><circle cx="2267.7" cy="333.7" r="3.5" fill="#cce385"/><circle cx="2261.5" cy="329.9" r="3.5" fill="#cee184"/><circle cx="2255.6" cy="330.1" r="3.5" fill="#d0e082"/><circle cx="2248.4" cy="338.8" r="3.5" fill="#d2de81"/><circle cx="2238.5" cy="354.2" r="3.5" fill="#d4dd80"/><circle cx="2226.3" cy="371.3" r="3.5" fill="#d6db7e"/><circle cx="2212.4" cy="386.4" r="3.5" fill="#d9da7d"/><circle cx="2196.1" cy="400" r="3.5" fill="#d9da7d"/><circle cx="2178.4" cy="411.7" r="3.5" fill="#dbd87b"/><circle cx="2160.7" cy="422.2" r="3.5" fill="#dcd67a"/><circle cx="2142.1" cy="432.3" r="3.5" fill="#ded579"/><circle cx="2124" cy="443.6" r="3.5" fill="#e0d377"/><circle cx="2107.1" cy="454.9" r="3.5" fill="#e2d176"/><circle cx="2089.2" cy="466.7" r="3.5" fill="#e4cf74"/><circle cx="2071.2" cy="478.3" r="3.5" fill="#e6cd73"/><circle cx="2053.9" cy="487.5" r="3.5" fill="#e6cd73"/><circle cx="2035.3" cy="494.7" r="3.5" fill="#e9cb72"/><circle cx="2015.9" cy="499.3" r="3.5" fill="#ebca70"/><circle cx="1997" cy="501.5" r="3.5" fill="#ecc86f"/><circle cx="1980.7" cy="503.9" r="3.5" fill="#eec66d"/><circle cx="1965.5" cy="507.8" r="3.5" fill="#f0c46c"/><circle cx="1951.2" cy="512.1" r="3.5" fill="#f2c26b"/><circle cx="1938.9" cy="516.2" r="3.5" fill="#f2c26b"/><circle cx="1932.2" cy="520.1" r="3.5" fill="#f4c069"/><circle cx="1931.2" cy="525" r="3.5" fill="#f6be68"/><circle cx="1929.8" cy="529.9" r="3.5" fill="#f9bb66"/><circle cx="1928.1" cy="536.4" r="3.5" fill="#fbb965"/><circle cx="1928.3" cy="543.8" r="3.5" fill="#fcb763"/><circle cx="1928.6" cy="551.6" r="3.5" fill="#feb562"/><circle cx="1929.2" cy="560.4" r="3.5" fill="#feb562"/><circle cx="1929.3" cy="568.5" r="3.5" fill="#ffb360"/><circle cx="1929" cy="575.8" r="3.5" fill="#ffb05f"/><circle cx="1927" cy="584.7" r="3.5" fill="#ffae5e"/><circle cx="1922.6" cy="595.2" r="3.5" fill="#ffac5c"/><circle cx="1917.3" cy="598.7" r="3.5" fill="#ffa95b"/><circle cx="1918.8" cy="601.6" r="3.5" fill="#ffa759"/><circle cx="1919.6" cy="603.8" r="3.5" fill="#ffa558"/><circle cx="1920" cy="605.4" r="3.5" fill="#ffa558"/><circle cx="1921" cy="606.1" r="3.5" fill="#ffa256"/><circle cx="1922.6" cy="605.5" r="3.5" fill="#ffa055"/><circle cx="1924.8" cy="605.4" r="3.5" fill="#ff9d53"/><circle cx="1926.9" cy="606" r="3.5" fill="#ff9b52"/><circle cx="1928.8" cy="608.2" r="3.5" fill="#ff9850"/><circle cx="1929.4" cy="610.3" r="3.5" fill="#ff964f"/><circle cx="1927.5" cy="612" r="3.5" fill="#ff964f"/><circle cx="1923.2" cy="610.9" r="3.5" fill="#ff934d"/><circle cx="1919.9" cy="608.7" r="3.5" fill="#ff914c"/><circle cx="1921" cy="608.2" r="3.5" fill="#ff8e4a"/><circle cx="1922.6" cy="609.2" r="3.5" fill="#ff8c49"/><circle cx="1923.2" cy="609.9" r="3.5" fill="#ff8947"/><circle cx="1918.8" cy="607.1" r="3.5" fill="#ff8646"/><circle cx="1914.7" cy="607.3" r="3.5" fill="#ff8444"/><circle cx="1913" cy="610.9" r="3.5" fill="#ff8444"/><circle cx="1912.8" cy="614.7" r="3.5" fill="#ff8143"/><circle cx="1915" cy="617.7" r="3.5" fill="#ff7e41"/><circle cx="1918.5" cy="621.5" r="3.5" fill="#ff7b40"/><circle cx="1921" cy="620.4" r="3.5" fill="#ff793e"/><circle cx="1926" cy="620.4" r="3.5" fill="#ff763d"/><circle cx="1935" cy="623.8" r="3.5" fill="#ff733b"/><circle cx="1944.3" cy="629.8" r="3.5" fill="#ff733b"/><circle cx="1952.2" cy="637" r="3.5" fill="#ff703a"/><circle cx="1955.8" cy="645.3" r="3.5" fill="#ff6d38"/><circle cx="1955.3" cy="651.7" r="3.5" fill="#ff6b37"/><circle cx="1952.1" cy="656.6" r="3.5" fill="#ff6835"/><circle cx="1950" cy="660.8" r="3.5" fill="#ff6533"/><circle cx="1950.4" cy="662.3" r="3.5" fill="#ff6232"/><circle cx="1953.9" cy="665.7" r="3.5" fill="#ff6232"/><circle cx="1960.1" cy="666.9" r="3.5" fill="#ff5f30"/><circle cx="1968.7" cy="670" r="3.5" fill="#ff5c2f"/><circle cx="1980.4" cy="675.4" r="3.5" fill="#ff592d"/><circle cx="1993" cy="682.3" r="3.5" fill="#ff562c"/><circle cx="2004.4" cy="689.8" r="3.5" fill="#ff532a"/><circle cx="2015.1" cy="698" r="3.5" fill="#ff5029"/><circle cx="2025.4" cy="706.3" r="3.5" fill="#ff4d27"/><circle cx="2035.3" cy="713.8" r="3.5" fill="#ff4d27"/><circle cx="2043.9" cy="718.6" r="3.5" fill="#ff4a26"/><circle cx="2052.5" cy="722.4" r="3.5" fill="#ff4724"/><circle cx="2063.9" cy="726.1" r="3.5" fill="#ff4422"/><circle cx="2077.4" cy="729.1" r="3.5" fill="#ff4121"/><circle cx="2093.2" cy="732.4" r="3.5" fill="#ff3e1f"/><circle cx="2110.1" cy="736.4" r="3.5" fill="#ff3b1e"/><circle cx="2126.9" cy="738.4" r="3.5" fill="#ff3b1e"/><circle cx="2144.1" cy="739.5" r="3.5" fill="#ff381c"/><circle cx="2159.5" cy="736.4" r="3.5" fill="#ff351b"/><circle cx="2173.5" cy="732.4" r="3.5" fill="#ff3219"/><circle cx="2186.8" cy="729.1" r="3.5" fill="#ff2f18"/><circle cx="2197.9" cy="726.4" r="3.5" fill="#ff2c16"/><circle cx="2204.5" cy="723.7" r="3.5" fill="#ff2914"/><circle cx="2210.8" cy="720.7" r="3.5" fill="#ff2613"/><circle cx="2215.4" cy="718.9" r="3.5" fill="#ff2613"/><circle cx="2220" cy="717.1" r="3.5" fill="#ff2211"/><circle cx="2224.7" cy="713.8" r="3.5" fill="#ff1f10"/><circle cx="2230.5" cy="711.2" r="3.5" fill="#ff1c0e"/><circle cx="2239" cy="708.9" r="3.5" fill="#ff190d"/><circle cx="2250.5" cy="705.5" r="3.5" fill="#ff160b"/><circle cx="2264" cy="701.8" r="3.5" fill="#ff1309"/><circle cx="2277.7" cy="699.1" r="3.5" fill="#ff1309"/><circle cx="2291.7" cy="696.9" r="3.5" fill="#ff1008"/><circle cx="2304" cy="695.1" r="3.5" fill="#ff0d06"/><circle cx="2311.2" cy="694.3" r="3.5" fill="#ff0905"/><circle cx="2316.3" cy="693.5" r="3.5" fill="#ff0603"/><circle cx="2320.4" cy="691.8" r="3.5" fill="#ff0302"/><circle cx="2318.1" cy="688.4" r="3.5" fill="#ff0000"/><circle cx="2315.8" cy="684.6" r="3.5" fill="#ff0000"/></g>
<g stroke="#1b1b1b" stroke-width="2" stroke-dasharray="1.78 2.93" fill="none"><path d="M1797 934V44"/><path d="M1915 934V44"/><path d="M2032 934V44"/><path d="M2150 934V44"/><path d="M2268 934V44"/><path d="M2385 934V44"/><path d="M2503 934V44"/><path d="M1679 822H2621"/><path d="M1679 711H2621"/><path d="M1679 600H2621"/><path d="M1679 489H2621"/><path d="M1679 377H2621"/><path d="M1679 266H2621"/><path d="M1679 155H2621"/></g>
<g stroke="#1b1b1b" stroke-width="2" fill="none"><path d="M1679 934v8"/><path d="M1797 934v8"/><path d="M1915 934v8"/><path d="M2032 934v8"/><path d="M2150 934v8"/><path d="M2268 934v8"/><path d="M2385 934v8"/><path d="M2503 934v8"/><path d="M2621 934v8"/><path d="M1679 934h-8"/><path d="M1679 822h-8"/><path d="M1679 711h-8"/><path d="M1679 600h-8"/><path d="M1679 489h-8"/><path d="M1679 377h-8"/><path d="M1679 266h-8"/><path d="M1679 155h-8"/><path d="M1679 44h-8"/><rect x="1679" y="44" width="942" height="890"/></g>
<rect x="2626" y="44" width="45" height="890" fill="url(#rb)" stroke="#1b1b1b" stroke-width="2"/>
<path d="M2671 44h8M2671 493h8" stroke="#1b1b1b" stroke-width="2" fill="none"/>
</g>
<g id="axBL">
<g clip-path="url(#cBL)"><circle cx="545.2" cy="1472.9" r="3.5" fill="#8000ff"/><circle cx="546.1" cy="1518.5" r="3.5" fill="#8000ff"/><circle cx="546.2" cy="1574.2" r="3.5" fill="#7e03ff"/><circle cx="545.6" cy="1629.7" r="3.5" fill="#7c06ff"/><circle cx="544.2" cy="1674.5" r="3.5" fill="#7a09ff"/><circle cx="542.3" cy="1711" r="3.5" fill="#780dff"/><circle cx="540" cy="1735.7" r="3.5" fill="#7610ff"/><circle cx="537.3" cy="1748.5" r="3.5" fill="#7413ff"/><circle cx="534.6" cy="1754.2" r="3.5" fill="#7413ff"/><circle cx="531.8" cy="1751.8" r="3.5" fill="#7216ff"/><circle cx="529.2" cy="1741.7" r="3.5" fill="#7019ff"/><circle cx="526.7" cy="1724.9" r="3.5" fill="#6e1cff"/><circle cx="524.4" cy="1704.5" r="3.5" fill="#6c1fff"/><circle cx="522.5" cy="1686.7" r="3.5" fill="#6a22fe"/><circle cx="520.7" cy="1679.1" r="3.5" fill="#6826fe"/><circle cx="518.9" cy="1685.6" r="3.5" fill="#6826fe"/><circle cx="517" cy="1699.7" r="3.5" fill="#6629fe"/><circle cx="514.8" cy="1721.1" r="3.5" fill="#642cfe"/><circle cx="512.4" cy="1744.8" r="3.5" fill="#622ffe"/><circle cx="509.6" cy="1767.1" r="3.5" fill="#6032fe"/><circle cx="506.4" cy="1789.6" r="3.5" fill="#5e35fe"/><circle cx="503" cy="1808.8" r="3.5" fill="#5c38fd"/><circle cx="499.3" cy="1824.9" r="3.5" fill="#5a3bfd"/><circle cx="495.5" cy="1840" r="3.5" fill="#5a3bfd"/><circle cx="491.4" cy="1853.5" r="3.5" fill="#583efd"/><circle cx="487.1" cy="1863.2" r="3.5" fill="#5641fd"/><circle cx="482.7" cy="1871.7" r="3.5" fill="#5444fd"/><circle cx="478.2" cy="1878" r="3.5" fill="#5247fc"/><circle cx="473.7" cy="1883.6" r="3.5" fill="#504afc"/><circle cx="469" cy="1887.9" r="3.5" fill="#4e4dfc"/><circle cx="464.3" cy="1891.8" r="3.5" fill="#4e4dfc"/><circle cx="459.6" cy="1895.3" r="3.5" fill="#4c50fc"/><circle cx="454.8" cy="1897.2" r="3.5" fill="#4a53fb"/><circle cx="450" cy="1899" r="3.5" fill="#4856fb"/><circle cx="445.2" cy="1899.9" r="3.5" fill="#4659fb"/><circle cx="440.3" cy="1900.5" r="3.5" fill="#445cfb"/><circle cx="435.5" cy="1901.5" r="3.5" fill="#425ffa"/><circle cx="430.6" cy="1902.3" r="3.5" fill="#425ffa"/><circle cx="425.7" cy="1904.5" r="3.5" fill="#4062fa"/><circle cx="420.8" cy="1908.9" r="3.5" fill="#3d65fa"/><circle cx="415.8" cy="1912.8" r="3.5" fill="#3c68f9"/><circle cx="410.7" cy="1915.8" r="3.5" fill="#396bf9"/><circle cx="405.7" cy="1918.1" r="3.5" fill="#386df9"/><circle cx="400.6" cy="1918.4" r="3.5" fill="#3570f8"/><circle cx="395.5" cy="1917" r="3.5" fill="#3473f8"/><circle cx="390.4" cy="1914.5" r="3.5" fill="#3473f8"/><circle cx="385.4" cy="1910.6" r="3.5" fill="#3176f8"/><circle cx="380.4" cy="1905.2" r="3.5" fill="#3079f7"/><circle cx="375.6" cy="1896.8" r="3.5" fill="#2d7bf7"/><circle cx="370.8" cy="1888.7" r="3.5" fill="#2c7ef7"/><circle cx="366.2" cy="1880.4" r="3.5" fill="#2981f6"/><circle cx="361.7" cy="1870.2" r="3.5" fill="#2884f6"/><circle cx="357.4" cy="1858.9" r="3.5" fill="#2884f6"/><circle cx="353.2" cy="1847.3" r="3.5" fill="#2586f5"/><circle cx="349.2" cy="1834.7" r="3.5" fill="#2489f5"/><circle cx="345.4" cy="1820" r="3.5" fill="#218cf4"/><circle cx="341.8" cy="1803.5" r="3.5" fill="#208ef4"/><circle cx="338.4" cy="1782.9" r="3.5" fill="#1d91f3"/><circle cx="335.4" cy="1758" r="3.5" fill="#1c93f3"/><circle cx="332.8" cy="1731.7" r="3.5" fill="#1996f3"/><circle cx="330.5" cy="1707.7" r="3.5" fill="#1996f3"/><circle cx="328.5" cy="1682.7" r="3.5" fill="#1898f2"/><circle cx="326.9" cy="1656.8" r="3.5" fill="#159bf2"/><circle cx="325.7" cy="1630.1" r="3.5" fill="#149df1"/><circle cx="324.9" cy="1595.7" r="3.5" fill="#11a0f1"/><circle cx="324.7" cy="1550" r="3.5" fill="#10a2f0"/><circle cx="325.1" cy="1501.3" r="3.5" fill="#0da5ef"/><circle cx="326.2" cy="1451.8" r="3.5" fill="#0da5ef"/><circle cx="328" cy="1409" r="3.5" fill="#0ca7ef"/><circle cx="330.4" cy="1375.3" r="3.5" fill="#09a9ee"/><circle cx="333.1" cy="1351.6" r="3.5" fill="#08acee"/><circle cx="336.1" cy="1337.9" r="3.5" fill="#05aeed"/><circle cx="339.2" cy="1327.7" r="3.5" fill="#04b0ed"/><circle cx="342.5" cy="1321.5" r="3.5" fill="#01b3ec"/><circle cx="345.9" cy="1309.3" r="3.5" fill="#01b3ec"/><circle cx="349.5" cy="1297" r="3.5" fill="#00b5eb"/><circle cx="353.3" cy="1282.1" r="3.5" fill="#02b7eb"/><circle cx="357.2" cy="1267.9" r="3.5" fill="#05b9ea"/><circle cx="361.4" cy="1257.9" r="3.5" fill="#07bbea"/><circle cx="365.7" cy="1248.9" r="3.5" fill="#08bee9"/><circle cx="370.1" cy="1239" r="3.5" fill="#0ac0e8"/><circle cx="374.6" cy="1228.5" r="3.5" fill="#0dc2e8"/><circle cx="379.3" cy="1220.3" r="3.5" fill="#0dc2e8"/><circle cx="384.1" cy="1213.3" r="3.5" fill="#0fc4e7"/><circle cx="389" cy="1210.1" r="3.5" fill="#10c6e6"/><circle cx="393.9" cy="1209.6" r="3.5" fill="#12c8e6"/><circle cx="398.8" cy="1206.3" r="3.5" fill="#15cae5"/><circle cx="403.8" cy="1203.4" r="3.5" fill="#17cbe4"/><circle cx="408.8" cy="1200.4" r="3.5" fill="#18cde4"/><circle cx="413.8" cy="1197.4" r="3.5" fill="#18cde4"/><circle cx="418.9" cy="1195.3" r="3.5" fill="#1acfe3"/><circle cx="424" cy="1193.5" r="3.5" fill="#1dd1e2"/><circle cx="429.2" cy="1193.2" r="3.5" fill="#1fd3e1"/><circle cx="434.3" cy="1197.6" r="3.5" fill="#20d5e1"/><circle cx="439.3" cy="1204.2" r="3.5" fill="#22d6e0"/><circle cx="444.2" cy="1209" r="3.5" fill="#25d8df"/><circle cx="449.1" cy="1215.8" r="3.5" fill="#27dade"/><circle cx="453.8" cy="1224.4" r="3.5" fill="#27dade"/><circle cx="458.5" cy="1230.9" r="3.5" fill="#28dbde"/><circle cx="463" cy="1233.4" r="3.5" fill="#2adddd"/><circle cx="467.5" cy="1241.4" r="3.5" fill="#2ddedc"/><circle cx="471.9" cy="1258.2" r="3.5" fill="#2fe0db"/><circle cx="476" cy="1267.7" r="3.5" fill="#30e1da"/><circle cx="480.1" cy="1272.5" r="3.5" fill="#32e3da"/><circle cx="484" cy="1282.5" r="3.5" fill="#32e3da"/><circle cx="487.8" cy="1294.3" r="3.5" fill="#35e4d9"/><circle cx="491.4" cy="1307.3" r="3.5" fill="#37e6d8"/><circle cx="494.8" cy="1324.4" r="3.5" fill="#38e7d7"/><circle cx="498" cy="1338.7" r="3.5" fill="#3ae8d6"/><circle cx="501" cy="1350.4" r="3.5" fill="#3dead5"/><circle cx="503.8" cy="1363.4" r="3.5" fill="#3febd5"/><circle cx="506.4" cy="1379.3" r="3.5" fill="#3febd5"/><circle cx="508.8" cy="1393.5" r="3.5" fill="#40ecd4"/><circle cx="511" cy="1406.5" r="3.5" fill="#42edd3"/><circle cx="513.1" cy="1414.9" r="3.5" fill="#45eed2"/><circle cx="515" cy="1421" r="3.5" fill="#46efd1"/><circle cx="516.9" cy="1426.8" r="3.5" fill="#48f1d0"/><circle cx="518.7" cy="1432.1" r="3.5" fill="#4af2cf"/><circle cx="520.4" cy="1438.4" r="3.5" fill="#4df3ce"/><circle cx="522" cy="1446.6" r="3.5" fill="#4df3ce"/><circle cx="523.5" cy="1454.2" r="3.5" fill="#4ef3cd"/><circle cx="524.9" cy="1463.7" r="3.5" fill="#50f4cc"/><circle cx="526.2" cy="1473.8" r="3.5" fill="#52f5cb"/><circle cx="527.3" cy="1482.7" r="3.5" fill="#55f6cb"/><circle cx="528.3" cy="1487.3" r="3.5" fill="#56f7ca"/><circle cx="529.2" cy="1489.8" r="3.5" fill="#58f8c9"/><circle cx="530.2" cy="1492.4" r="3.5" fill="#58f8c9"/><circle cx="531.1" cy="1494.1" r="3.5" fill="#5af8c8"/><circle cx="531.9" cy="1496.7" r="3.5" fill="#5df9c7"/><circle cx="532.8" cy="1494.9" r="3.5" fill="#5efac6"/><circle cx="533.7" cy="1492.1" r="3.5" fill="#60fac5"/><circle cx="534.6" cy="1492.1" r="3.5" fill="#62fbc4"/><circle cx="535.5" cy="1493.2" r="3.5" fill="#65fbc3"/><circle cx="536.4" cy="1495" r="3.5" fill="#66fcc2"/><circle cx="537.2" cy="1497.3" r="3.5" fill="#66fcc2"/><circle cx="538.1" cy="1499" r="3.5" fill="#68fcc1"/><circle cx="538.9" cy="1499.5" r="3.5" fill="#6afdc0"/><circle cx="539.7" cy="1494.7" r="3.5" fill="#6dfdbf"/><circle cx="540.6" cy="1488.2" r="3.5" fill="#6efebe"/><circle cx="541.7" cy="1481.2" r="3.5" fill="#70febc"/><circle cx="542.8" cy="1474.7" r="3.5" fill="#72febb"/><circle cx="544" cy="1470.3" r="3.5" fill="#72febb"/><circle cx="545.2" cy="1467.4" r="3.5" fill="#75feba"/><circle cx="546.5" cy="1466.3" r="3.5" fill="#76ffb9"/><circle cx="547.8" cy="1465" r="3.5" fill="#78ffb8"/><circle cx="549.1" cy="1462.6" r="3.5" fill="#7affb7"/><circle cx="550.4" cy="1459.5" r="3.5" fill="#7dffb6"/><circle cx="551.8" cy="1455.9" r="3.5" fill="#7effb5"/><circle cx="553.3" cy="1451.6" r="3.5" fill="#7effb5"/><circle cx="554.8" cy="1446.8" r="3.5" fill="#80ffb4"/><circle cx="556.4" cy="1442.8" r="3.5" fill="#82ffb3"/><circle cx="558" cy="1439.7" r="3.5" fill="#84ffb2"/><circle cx="559.7" cy="1439.4" r="3.5" fill="#86ffb0"/><circle cx="561.3" cy="1440.2" r="3.5" fill="#89ffaf"/><circle cx="562.9" cy="1441" r="3.5" fill="#8bfeae"/><circle cx="564.6" cy="1440.6" r="3.5" fill="#8cfead"/><circle cx="566.2" cy="1438.5" r="3.5" fill="#8cfead"/><circle cx="567.9" cy="1435.9" r="3.5" fill="#8efeac"/><circle cx="569.6" cy="1433.4" r="3.5" fill="#90feab"/><circle cx="571.4" cy="1430.8" r="3.5" fill="#92fda9"/><circle cx="573.2" cy="1427.8" r="3.5" fill="#94fda8"/><circle cx="575.1" cy="1420.6" r="3.5" fill="#96fca7"/><circle cx="577" cy="1415.5" r="3.5" fill="#99fca6"/><circle cx="579" cy="1412.9" r="3.5" fill="#99fca6"/><circle cx="581.1" cy="1407.5" r="3.5" fill="#9bfba5"/><circle cx="583.3" cy="1401" r="3.5" fill="#9cfba4"/><circle cx="585.5" cy="1394.6" r="3.5" fill="#9efaa2"/><circle cx="587.8" cy="1390.1" r="3.5" fill="#a0faa1"/><circle cx="590.2" cy="1384.8" r="3.5" fill="#a2f9a0"/><circle cx="592.7" cy="1378.8" r="3.5" fill="#a4f89f"/><circle cx="595.2" cy="1373.9" r="3.5" fill="#a6f89d"/><circle cx="597.8" cy="1367.7" r="3.5" fill="#a6f89d"/><circle cx="600.6" cy="1357.3" r="3.5" fill="#a9f79c"/><circle cx="603.5" cy="1347.3" r="3.5" fill="#abf69b"/><circle cx="606.5" cy="1338.6" r="3.5" fill="#acf59a"/><circle cx="609.6" cy="1332.2" r="3.5" fill="#aef498"/><circle cx="612.8" cy="1328.8" r="3.5" fill="#b0f397"/><circle cx="616" cy="1327.5" r="3.5" fill="#b2f396"/><circle cx="619.3" cy="1327.3" r="3.5" fill="#b2f396"/><circle cx="622.5" cy="1327.5" r="3.5" fill="#b4f295"/><circle cx="625.7" cy="1328.5" r="3.5" fill="#b6f193"/><circle cx="628.9" cy="1331.3" r="3.5" fill="#b9ef92"/><circle cx="632.1" cy="1337.2" r="3.5" fill="#bbee91"/><circle cx="635.1" cy="1343.7" r="3.5" fill="#bced8f"/><circle cx="638.1" cy="1348.9" r="3.5" fill="#beec8e"/><circle cx="641" cy="1354.8" r="3.5" fill="#beec8e"/><circle cx="643.8" cy="1361.8" r="3.5" fill="#c0eb8d"/><circle cx="646.5" cy="1368.6" r="3.5" fill="#c2ea8c"/><circle cx="649.1" cy="1378.5" r="3.5" fill="#c4e88a"/><circle cx="651.5" cy="1391.3" r="3.5" fill="#c6e789"/><circle cx="653.7" cy="1404" r="3.5" fill="#c9e688"/><circle cx="655.8" cy="1415.9" r="3.5" fill="#cbe486"/><circle cx="657.7" cy="1425.4" r="3.5" fill="#cce385"/><circle cx="659.5" cy="1431.7" r="3.5" fill="#cce385"/><circle cx="661.3" cy="1436.4" r="3.5" fill="#cee184"/><circle cx="662.9" cy="1441.3" r="3.5" fill="#d0e082"/><circle cx="664.5" cy="1448.3" r="3.5" fill="#d2de81"/><circle cx="666" cy="1458.7" r="3.5" fill="#d4dd80"/><circle cx="667.3" cy="1471.6" r="3.5" fill="#d6db7e"/><circle cx="668.4" cy="1486.2" r="3.5" fill="#d9da7d"/><circle cx="669.2" cy="1502.9" r="3.5" fill="#d9da7d"/><circle cx="669.9" cy="1520.7" r="3.5" fill="#dbd87b"/><circle cx="670.2" cy="1538.5" r="3.5" fill="#dcd67a"/><circle cx="670.4" cy="1557.1" r="3.5" fill="#ded579"/><circle cx="670.2" cy="1575.4" r="3.5" fill="#e0d377"/><circle cx="669.9" cy="1592.7" r="3.5" fill="#e2d176"/><circle cx="669.2" cy="1610.9" r="3.5" fill="#e4cf74"/><circle cx="668.3" cy="1629.3" r="3.5" fill="#e6cd73"/><circle cx="667.2" cy="1646.8" r="3.5" fill="#e6cd73"/><circle cx="665.8" cy="1665.2" r="3.5" fill="#e9cb72"/><circle cx="664.1" cy="1683.9" r="3.5" fill="#ebca70"/><circle cx="662.2" cy="1701.9" r="3.5" fill="#ecc86f"/><circle cx="660" cy="1717.5" r="3.5" fill="#eec66d"/><circle cx="657.7" cy="1732.3" r="3.5" fill="#f0c46c"/><circle cx="655.1" cy="1746.3" r="3.5" fill="#f2c26b"/><circle cx="652.3" cy="1758.3" r="3.5" fill="#f2c26b"/><circle cx="649.4" cy="1765.1" r="3.5" fill="#f4c069"/><circle cx="646.5" cy="1766.7" r="3.5" fill="#f6be68"/><circle cx="643.5" cy="1768.7" r="3.5" fill="#f9bb66"/><circle cx="640.5" cy="1771.1" r="3.5" fill="#fbb965"/><circle cx="637.5" cy="1771.9" r="3.5" fill="#fcb763"/><circle cx="634.4" cy="1772.6" r="3.5" fill="#feb562"/><circle cx="631.4" cy="1773.1" r="3.5" fill="#feb562"/><circle cx="628.3" cy="1774" r="3.5" fill="#ffb360"/><circle cx="625.3" cy="1775.1" r="3.5" fill="#ffb05f"/><circle cx="622.2" cy="1777.9" r="3.5" fill="#ffae5e"/><circle cx="619" cy="1783.2" r="3.5" fill="#ffac5c"/><circle cx="615.8" cy="1788.3" r="3.5" fill="#ffa95b"/><circle cx="612.5" cy="1786.9" r="3.5" fill="#ffa759"/><circle cx="609.3" cy="1786.1" r="3.5" fill="#ffa558"/><circle cx="606" cy="1785.6" r="3.5" fill="#ffa558"/><circle cx="602.8" cy="1784.5" r="3.5" fill="#ffa256"/><circle cx="599.6" cy="1782.5" r="3.5" fill="#ffa055"/><circle cx="596.5" cy="1780.1" r="3.5" fill="#ff9d53"/><circle cx="593.3" cy="1777.8" r="3.5" fill="#ff9b52"/><circle cx="590.2" cy="1775.8" r="3.5" fill="#ff9850"/><circle cx="587.1" cy="1775.1" r="3.5" fill="#ff964f"/><circle cx="584" cy="1776.6" r="3.5" fill="#ff964f"/><circle cx="580.9" cy="1780.1" r="3.5" fill="#ff934d"/><circle cx="577.8" cy="1782.6" r="3.5" fill="#ff914c"/><circle cx="574.6" cy="1781.1" r="3.5" fill="#ff8e4a"/><circle cx="571.4" cy="1779.2" r="3.5" fill="#ff8c49"/><circle cx="568.3" cy="1778.2" r="3.5" fill="#ff8947"/><circle cx="565.2" cy="1781.6" r="3.5" fill="#ff8646"/><circle cx="562" cy="1785" r="3.5" fill="#ff8444"/><circle cx="558.7" cy="1786.4" r="3.5" fill="#ff8444"/><circle cx="555.5" cy="1786.1" r="3.5" fill="#ff8143"/><circle cx="552.3" cy="1783.5" r="3.5" fill="#ff7e41"/><circle cx="549.1" cy="1779.6" r="3.5" fill="#ff7b40"/><circle cx="546" cy="1776.6" r="3.5" fill="#ff793e"/><circle cx="542.9" cy="1771.1" r="3.5" fill="#ff763d"/><circle cx="540" cy="1761.9" r="3.5" fill="#ff733b"/><circle cx="537.1" cy="1752.4" r="3.5" fill="#ff733b"/><circle cx="534.4" cy="1743.9" r="3.5" fill="#ff703a"/><circle cx="531.8" cy="1739.4" r="3.5" fill="#ff6d38"/><circle cx="529.3" cy="1738.6" r="3.5" fill="#ff6b37"/><circle cx="526.7" cy="1740.2" r="3.5" fill="#ff6835"/><circle cx="524.1" cy="1740.5" r="3.5" fill="#ff6533"/><circle cx="521.5" cy="1738.6" r="3.5" fill="#ff6232"/><circle cx="519" cy="1733.4" r="3.5" fill="#ff6232"/><circle cx="516.6" cy="1725.8" r="3.5" fill="#ff5f30"/><circle cx="514.2" cy="1715.7" r="3.5" fill="#ff5c2f"/><circle cx="512.1" cy="1702.4" r="3.5" fill="#ff592d"/><circle cx="510.1" cy="1687.9" r="3.5" fill="#ff562c"/><circle cx="508.4" cy="1674.3" r="3.5" fill="#ff532a"/><circle cx="506.8" cy="1660.9" r="3.5" fill="#ff5029"/><circle cx="505.5" cy="1647.7" r="3.5" fill="#ff4d27"/><circle cx="504.3" cy="1634.7" r="3.5" fill="#ff4d27"/><circle cx="503.2" cy="1623" r="3.5" fill="#ff4a26"/><circle cx="502.4" cy="1611.3" r="3.5" fill="#ff4724"/><circle cx="501.7" cy="1596.9" r="3.5" fill="#ff4422"/><circle cx="501.3" cy="1580.6" r="3.5" fill="#ff4121"/><circle cx="501.1" cy="1562" r="3.5" fill="#ff3e1f"/><circle cx="501.1" cy="1542.2" r="3.5" fill="#ff3b1e"/><circle cx="501.5" cy="1523.1" r="3.5" fill="#ff3b1e"/><circle cx="502.1" cy="1503.8" r="3.5" fill="#ff381c"/><circle cx="503" cy="1487.4" r="3.5" fill="#ff351b"/><circle cx="504.1" cy="1472.8" r="3.5" fill="#ff3219"/><circle cx="505.3" cy="1458.8" r="3.5" fill="#ff2f18"/><circle cx="506.8" cy="1447" r="3.5" fill="#ff2c16"/><circle cx="508.4" cy="1439.5" r="3.5" fill="#ff2914"/><circle cx="510.1" cy="1432.5" r="3.5" fill="#ff2613"/><circle cx="511.9" cy="1426.8" r="3.5" fill="#ff2613"/><circle cx="513.8" cy="1421.3" r="3.5" fill="#ff2211"/><circle cx="515.7" cy="1416.4" r="3.5" fill="#ff1f10"/><circle cx="517.8" cy="1410.3" r="3.5" fill="#ff1c0e"/><circle cx="519.9" cy="1402" r="3.5" fill="#ff190d"/><circle cx="522.1" cy="1391.5" r="3.5" fill="#ff160b"/><circle cx="524.6" cy="1379.5" r="3.5" fill="#ff1309"/><circle cx="527.2" cy="1367.3" r="3.5" fill="#ff1309"/><circle cx="529.9" cy="1354.8" r="3.5" fill="#ff1008"/><circle cx="532.9" cy="1343.8" r="3.5" fill="#ff0d06"/><circle cx="535.9" cy="1337" r="3.5" fill="#ff0905"/><circle cx="539" cy="1332.1" r="3.5" fill="#ff0603"/><circle cx="542.2" cy="1328.4" r="3.5" fill="#ff0302"/><circle cx="545.4" cy="1331.1" r="3.5" fill="#ff0000"/><circle cx="548.6" cy="1334" r="3.5" fill="#ff0000"/></g>
<g stroke="#1b1b1b" stroke-width="2" stroke-dasharray="1.78 2.93" fill="none"><path d="M356 2002V1112"/><path d="M482 2002V1112"/><path d="M607 2002V1112"/><path d="M733 2002V1112"/><path d="M858 2002V1112"/><path d="M984 2002V1112"/><path d="M1109 2002V1112"/><path d="M230 1891H1172"/><path d="M230 1779H1172"/><path d="M230 1668H1172"/><path d="M230 1557H1172"/><path d="M230 1446H1172"/><path d="M230 1334H1172"/><path d="M230 1223H1172"/></g>
<g stroke="#1b1b1b" stroke-width="2" fill="none"><path d="M230 2002v8"/><path d="M356 2002v8"/><path d="M482 2002v8"/><path d="M607 2002v8"/><path d="M733 2002v8"/><path d="M858 2002v8"/><path d="M984 2002v8"/><path d="M1109 2002v8"/><path d="M230 2002h-8"/><path d="M230 1891h-8"/><path d="M230 1779h-8"/><path d="M230 1668h-8"/><path d="M230 1557h-8"/><path d="M230 1446h-8"/><path d="M230 1334h-8"/><path d="M230 1223h-8"/><path d="M230 1112h-8"/><rect x="230" y="1112" width="942" height="890"/></g>
<rect x="1178" y="1112" width="44" height="890" fill="url(#rb)" stroke="#1b1b1b" stroke-width="2"/>
<path d="M1222 1112h8M1222 1561h8" stroke="#1b1b1b" stroke-width="2" fill="none"/>
</g>
<g id="axBR">
<g clip-path="url(#cBR)"><circle cx="1688.6" cy="1784" r="3.5" fill="#0000ff"/><circle cx="1691.8" cy="1766.5" r="3.5" fill="#0000ff"/><circle cx="1694.9" cy="1738.7" r="3.5" fill="#0001fe"/><circle cx="1698" cy="1703.5" r="3.5" fill="#0002fe"/><circle cx="1701.2" cy="1668.8" r="3.5" fill="#0003fe"/><circle cx="1704.3" cy="1638" r="3.5" fill="#0004fd"/><circle cx="1707.5" cy="1617.4" r="3.5" fill="#0005fc"/><circle cx="1710.6" cy="1608.2" r="3.5" fill="#0006fc"/><circle cx="1713.7" cy="1610.2" r="3.5" fill="#0006fc"/><circle cx="1716.9" cy="1621.7" r="3.5" fill="#0007fc"/><circle cx="1720" cy="1639" r="3.5" fill="#0008fb"/><circle cx="1723.1" cy="1662.3" r="3.5" fill="#0009fa"/><circle cx="1726.3" cy="1687.5" r="3.5" fill="#000afa"/><circle cx="1729.4" cy="1707.1" r="3.5" fill="#000bfa"/><circle cx="1732.6" cy="1719.1" r="3.5" fill="#000cf9"/><circle cx="1735.7" cy="1718.9" r="3.5" fill="#000cf9"/><circle cx="1738.8" cy="1712.6" r="3.5" fill="#000df8"/><circle cx="1742" cy="1702.5" r="3.5" fill="#000ef8"/><circle cx="1745.1" cy="1689.4" r="3.5" fill="#000ff8"/><circle cx="1748.3" cy="1676.3" r="3.5" fill="#0010f7"/><circle cx="1751.4" cy="1661.6" r="3.5" fill="#0011f6"/><circle cx="1754.5" cy="1646.9" r="3.5" fill="#0012f6"/><circle cx="1757.7" cy="1635.2" r="3.5" fill="#0013f6"/><circle cx="1760.8" cy="1622.6" r="3.5" fill="#0013f6"/><circle cx="1764" cy="1609.5" r="3.5" fill="#0014f5"/><circle cx="1767.1" cy="1597.7" r="3.5" fill="#0015f4"/><circle cx="1770.2" cy="1589.9" r="3.5" fill="#0016f4"/><circle cx="1773.4" cy="1582.7" r="3.5" fill="#0017f4"/><circle cx="1776.5" cy="1574.2" r="3.5" fill="#0018f3"/><circle cx="1779.6" cy="1568.3" r="3.5" fill="#0019f2"/><circle cx="1782.8" cy="1561.9" r="3.5" fill="#0019f2"/><circle cx="1785.9" cy="1558.2" r="3.5" fill="#001af2"/><circle cx="1789.1" cy="1557.8" r="3.5" fill="#001bf2"/><circle cx="1792.2" cy="1559.4" r="3.5" fill="#001cf1"/><circle cx="1795.3" cy="1563" r="3.5" fill="#001df0"/><circle cx="1798.5" cy="1564.3" r="3.5" fill="#001ef0"/><circle cx="1801.6" cy="1563" r="3.5" fill="#001ff0"/><circle cx="1804.8" cy="1559.7" r="3.5" fill="#001ff0"/><circle cx="1807.9" cy="1554" r="3.5" fill="#0020ef"/><circle cx="1811" cy="1544.3" r="3.5" fill="#0021ee"/><circle cx="1814.2" cy="1535" r="3.5" fill="#0022ee"/><circle cx="1817.3" cy="1527.3" r="3.5" fill="#0023ee"/><circle cx="1820.5" cy="1519.5" r="3.5" fill="#0024ed"/><circle cx="1823.6" cy="1513.9" r="3.5" fill="#0025ec"/><circle cx="1826.7" cy="1510" r="3.5" fill="#0026ec"/><circle cx="1829.9" cy="1507.1" r="3.5" fill="#0026ec"/><circle cx="1833" cy="1505.5" r="3.5" fill="#0027ec"/><circle cx="1836.2" cy="1505.7" r="3.5" fill="#0028eb"/><circle cx="1839.3" cy="1507.3" r="3.5" fill="#0029ea"/><circle cx="1842.4" cy="1508.8" r="3.5" fill="#002aea"/><circle cx="1845.6" cy="1510" r="3.5" fill="#002bea"/><circle cx="1848.7" cy="1511.7" r="3.5" fill="#002ce9"/><circle cx="1851.8" cy="1513.2" r="3.5" fill="#002ce9"/><circle cx="1855" cy="1514.8" r="3.5" fill="#002de8"/><circle cx="1858.1" cy="1515.9" r="3.5" fill="#002ee8"/><circle cx="1861.3" cy="1516.5" r="3.5" fill="#002fe8"/><circle cx="1864.4" cy="1516.8" r="3.5" fill="#0030e7"/><circle cx="1867.5" cy="1516.8" r="3.5" fill="#0031e6"/><circle cx="1870.7" cy="1516.5" r="3.5" fill="#0032e6"/><circle cx="1873.8" cy="1514.8" r="3.5" fill="#0033e6"/><circle cx="1877" cy="1512.6" r="3.5" fill="#0033e6"/><circle cx="1880.1" cy="1510.6" r="3.5" fill="#0034e5"/><circle cx="1883.2" cy="1508.9" r="3.5" fill="#0035e4"/><circle cx="1886.4" cy="1508.7" r="3.5" fill="#0036e4"/><circle cx="1889.5" cy="1508.7" r="3.5" fill="#0037e3"/><circle cx="1892.7" cy="1503.4" r="3.5" fill="#0038e3"/><circle cx="1895.8" cy="1494.2" r="3.5" fill="#0039e2"/><circle cx="1898.9" cy="1485.5" r="3.5" fill="#0039e2"/><circle cx="1902.1" cy="1475.2" r="3.5" fill="#003ae2"/><circle cx="1905.2" cy="1464.1" r="3.5" fill="#003be2"/><circle cx="1908.3" cy="1459.5" r="3.5" fill="#003ce1"/><circle cx="1911.5" cy="1463" r="3.5" fill="#003de0"/><circle cx="1914.6" cy="1468.8" r="3.5" fill="#003ee0"/><circle cx="1917.8" cy="1475.5" r="3.5" fill="#003fe0"/><circle cx="1920.9" cy="1469" r="3.5" fill="#003fe0"/><circle cx="1924" cy="1456.4" r="3.5" fill="#0040df"/><circle cx="1927.2" cy="1439.5" r="3.5" fill="#0041de"/><circle cx="1930.3" cy="1422.4" r="3.5" fill="#0042de"/><circle cx="1933.5" cy="1415.2" r="3.5" fill="#0043de"/><circle cx="1936.6" cy="1414.3" r="3.5" fill="#0044dd"/><circle cx="1939.7" cy="1413.7" r="3.5" fill="#0045dc"/><circle cx="1942.9" cy="1411.5" r="3.5" fill="#0046dc"/><circle cx="1946" cy="1406.5" r="3.5" fill="#0046dc"/><circle cx="1949.2" cy="1403.8" r="3.5" fill="#0047dc"/><circle cx="1952.3" cy="1407.1" r="3.5" fill="#0048db"/><circle cx="1955.4" cy="1415.9" r="3.5" fill="#0049db"/><circle cx="1958.6" cy="1431.7" r="3.5" fill="#004ada"/><circle cx="1961.7" cy="1437.9" r="3.5" fill="#004bda"/><circle cx="1964.8" cy="1445.8" r="3.5" fill="#004cd9"/><circle cx="1968" cy="1451" r="3.5" fill="#004cd9"/><circle cx="1971.1" cy="1451.7" r="3.5" fill="#004dd8"/><circle cx="1974.3" cy="1455.1" r="3.5" fill="#004ed8"/><circle cx="1977.4" cy="1466.1" r="3.5" fill="#004fd8"/><circle cx="1980.5" cy="1495.1" r="3.5" fill="#0050d7"/><circle cx="1983.7" cy="1530.3" r="3.5" fill="#0051d6"/><circle cx="1986.8" cy="1561.9" r="3.5" fill="#0052d6"/><circle cx="1990" cy="1597.7" r="3.5" fill="#0053d6"/><circle cx="1993.1" cy="1633.9" r="3.5" fill="#0053d6"/><circle cx="1996.2" cy="1658.7" r="3.5" fill="#0054d5"/><circle cx="1999.4" cy="1668.5" r="3.5" fill="#0055d4"/><circle cx="2002.5" cy="1688.3" r="3.5" fill="#0056d4"/><circle cx="2005.7" cy="1729.1" r="3.5" fill="#0057d3"/><circle cx="2008.8" cy="1756.5" r="3.5" fill="#0058d3"/><circle cx="2011.9" cy="1775.3" r="3.5" fill="#0059d2"/><circle cx="2015.1" cy="1800.5" r="3.5" fill="#0059d2"/><circle cx="2018.2" cy="1821.1" r="3.5" fill="#005ad2"/><circle cx="2021.4" cy="1838.6" r="3.5" fill="#005bd2"/><circle cx="2024.5" cy="1855.8" r="3.5" fill="#005cd1"/><circle cx="2027.6" cy="1869.6" r="3.5" fill="#005dd0"/><circle cx="2030.8" cy="1878.4" r="3.5" fill="#005ed0"/><circle cx="2033.9" cy="1888.4" r="3.5" fill="#005fd0"/><circle cx="2037" cy="1898.4" r="3.5" fill="#005fd0"/><circle cx="2040.2" cy="1906.9" r="3.5" fill="#0060cf"/><circle cx="2043.3" cy="1915.2" r="3.5" fill="#0061ce"/><circle cx="2046.5" cy="1917.4" r="3.5" fill="#0062ce"/><circle cx="2049.6" cy="1918.7" r="3.5" fill="#0063ce"/><circle cx="2052.7" cy="1920.3" r="3.5" fill="#0064cd"/><circle cx="2055.9" cy="1921.7" r="3.5" fill="#0065cc"/><circle cx="2059" cy="1923.3" r="3.5" fill="#0066cc"/><circle cx="2062.2" cy="1924.9" r="3.5" fill="#0066cc"/><circle cx="2065.3" cy="1926.6" r="3.5" fill="#0067cc"/><circle cx="2068.4" cy="1928.5" r="3.5" fill="#0068cb"/><circle cx="2071.6" cy="1931" r="3.5" fill="#0069cb"/><circle cx="2074.7" cy="1932.3" r="3.5" fill="#006aca"/><circle cx="2077.9" cy="1932.5" r="3.5" fill="#006bca"/><circle cx="2081" cy="1931.8" r="3.5" fill="#006cc9"/><circle cx="2084.1" cy="1931" r="3.5" fill="#006cc9"/><circle cx="2087.3" cy="1929.8" r="3.5" fill="#006dc8"/><circle cx="2090.4" cy="1928.2" r="3.5" fill="#006ec8"/><circle cx="2093.5" cy="1923.3" r="3.5" fill="#006fc8"/><circle cx="2096.7" cy="1920" r="3.5" fill="#0070c7"/><circle cx="2099.8" cy="1918.4" r="3.5" fill="#0071c6"/><circle cx="2103" cy="1917.4" r="3.5" fill="#0072c6"/><circle cx="2106.1" cy="1917.3" r="3.5" fill="#0073c6"/><circle cx="2109.2" cy="1917.3" r="3.5" fill="#0073c6"/><circle cx="2112.4" cy="1917.4" r="3.5" fill="#0074c5"/><circle cx="2115.5" cy="1918.4" r="3.5" fill="#0075c4"/><circle cx="2118.7" cy="1919.4" r="3.5" fill="#0076c4"/><circle cx="2121.8" cy="1920" r="3.5" fill="#0077c3"/><circle cx="2124.9" cy="1916.1" r="3.5" fill="#0078c3"/><circle cx="2128.1" cy="1910.2" r="3.5" fill="#0079c2"/><circle cx="2131.2" cy="1905.4" r="3.5" fill="#0079c2"/><circle cx="2134.4" cy="1904.3" r="3.5" fill="#007ac2"/><circle cx="2137.5" cy="1906.3" r="3.5" fill="#007bc2"/><circle cx="2140.6" cy="1908.6" r="3.5" fill="#007cc1"/><circle cx="2143.8" cy="1910.2" r="3.5" fill="#007dc0"/><circle cx="2146.9" cy="1910.6" r="3.5" fill="#007ec0"/><circle cx="2150.1" cy="1909.5" r="3.5" fill="#007fc0"/><circle cx="2153.2" cy="1907.8" r="3.5" fill="#007fc0"/><circle cx="2156.3" cy="1905" r="3.5" fill="#0080bf"/><circle cx="2159.5" cy="1900.5" r="3.5" fill="#0081be"/><circle cx="2162.6" cy="1896.1" r="3.5" fill="#0082be"/><circle cx="2165.7" cy="1894.5" r="3.5" fill="#0083be"/><circle cx="2168.9" cy="1895.6" r="3.5" fill="#0084bd"/><circle cx="2172" cy="1897.1" r="3.5" fill="#0085bc"/><circle cx="2175.2" cy="1897.1" r="3.5" fill="#0086bc"/><circle cx="2178.3" cy="1896.1" r="3.5" fill="#0086bc"/><circle cx="2181.4" cy="1895.1" r="3.5" fill="#0087bc"/><circle cx="2184.6" cy="1895.6" r="3.5" fill="#0088bb"/><circle cx="2187.7" cy="1896.8" r="3.5" fill="#0089bb"/><circle cx="2190.9" cy="1896.4" r="3.5" fill="#008aba"/><circle cx="2194" cy="1894.8" r="3.5" fill="#008bba"/><circle cx="2197.1" cy="1893.6" r="3.5" fill="#008cb9"/><circle cx="2200.3" cy="1893.2" r="3.5" fill="#008cb9"/><circle cx="2203.4" cy="1892" r="3.5" fill="#008db8"/><circle cx="2206.6" cy="1890.7" r="3.5" fill="#008eb8"/><circle cx="2209.7" cy="1889.9" r="3.5" fill="#008fb8"/><circle cx="2212.8" cy="1890.7" r="3.5" fill="#0090b7"/><circle cx="2216" cy="1891.5" r="3.5" fill="#0091b6"/><circle cx="2219.1" cy="1891.9" r="3.5" fill="#0092b6"/><circle cx="2222.2" cy="1892.4" r="3.5" fill="#0093b6"/><circle cx="2225.4" cy="1891.5" r="3.5" fill="#0093b6"/><circle cx="2228.5" cy="1887.5" r="3.5" fill="#0094b5"/><circle cx="2231.7" cy="1882" r="3.5" fill="#0095b4"/><circle cx="2234.8" cy="1877.7" r="3.5" fill="#0096b4"/><circle cx="2237.9" cy="1875.7" r="3.5" fill="#0097b3"/><circle cx="2241.1" cy="1875.2" r="3.5" fill="#0098b3"/><circle cx="2244.2" cy="1876.1" r="3.5" fill="#0099b2"/><circle cx="2247.4" cy="1877.2" r="3.5" fill="#0099b2"/><circle cx="2250.5" cy="1878.5" r="3.5" fill="#009ab2"/><circle cx="2253.6" cy="1880.5" r="3.5" fill="#009bb2"/><circle cx="2256.8" cy="1883.3" r="3.5" fill="#009cb1"/><circle cx="2259.9" cy="1889.1" r="3.5" fill="#009db0"/><circle cx="2263.1" cy="1893.8" r="3.5" fill="#009eb0"/><circle cx="2266.2" cy="1897.1" r="3.5" fill="#009fb0"/><circle cx="2269.3" cy="1900" r="3.5" fill="#009fb0"/><circle cx="2272.5" cy="1902.3" r="3.5" fill="#00a0af"/><circle cx="2275.6" cy="1905" r="3.5" fill="#00a1ae"/><circle cx="2278.7" cy="1908.6" r="3.5" fill="#00a2ae"/><circle cx="2281.9" cy="1913.5" r="3.5" fill="#00a3ae"/><circle cx="2285" cy="1918.4" r="3.5" fill="#00a4ad"/><circle cx="2288.2" cy="1923.3" r="3.5" fill="#00a5ac"/><circle cx="2291.3" cy="1926.6" r="3.5" fill="#00a6ac"/><circle cx="2294.4" cy="1928.5" r="3.5" fill="#00a6ac"/><circle cx="2297.6" cy="1929.2" r="3.5" fill="#00a7ac"/><circle cx="2300.7" cy="1930.2" r="3.5" fill="#00a8ab"/><circle cx="2303.9" cy="1931.5" r="3.5" fill="#00a9ab"/><circle cx="2307" cy="1933.8" r="3.5" fill="#00aaaa"/><circle cx="2310.1" cy="1936.4" r="3.5" fill="#00abaa"/><circle cx="2313.3" cy="1938.8" r="3.5" fill="#00aca9"/><circle cx="2316.4" cy="1941" r="3.5" fill="#00aca9"/><circle cx="2319.6" cy="1942.6" r="3.5" fill="#00ada8"/><circle cx="2322.7" cy="1943.3" r="3.5" fill="#00aea8"/><circle cx="2325.8" cy="1943.6" r="3.5" fill="#00afa8"/><circle cx="2329" cy="1942.9" r="3.5" fill="#00b0a7"/><circle cx="2332.1" cy="1941.2" r="3.5" fill="#00b1a6"/><circle cx="2335.3" cy="1938.4" r="3.5" fill="#00b2a6"/><circle cx="2338.4" cy="1934.7" r="3.5" fill="#00b3a6"/><circle cx="2341.5" cy="1929.8" r="3.5" fill="#00b3a6"/><circle cx="2344.7" cy="1923.3" r="3.5" fill="#00b4a5"/><circle cx="2347.8" cy="1915.2" r="3.5" fill="#00b5a4"/><circle cx="2350.9" cy="1906.9" r="3.5" fill="#00b6a4"/><circle cx="2354.1" cy="1897.2" r="3.5" fill="#00b7a3"/><circle cx="2357.2" cy="1886.9" r="3.5" fill="#00b8a3"/><circle cx="2360.4" cy="1875.6" r="3.5" fill="#00b9a2"/><circle cx="2363.5" cy="1865.4" r="3.5" fill="#00b9a2"/><circle cx="2366.6" cy="1858.6" r="3.5" fill="#00baa2"/><circle cx="2369.8" cy="1856.7" r="3.5" fill="#00bba2"/><circle cx="2372.9" cy="1854.7" r="3.5" fill="#00bca1"/><circle cx="2376.1" cy="1852.6" r="3.5" fill="#00bda0"/><circle cx="2379.2" cy="1851.4" r="3.5" fill="#00bea0"/><circle cx="2382.3" cy="1850.6" r="3.5" fill="#00bfa0"/><circle cx="2385.5" cy="1849.8" r="3.5" fill="#00bfa0"/><circle cx="2388.6" cy="1849" r="3.5" fill="#00c09f"/><circle cx="2391.8" cy="1847.3" r="3.5" fill="#00c19e"/><circle cx="2394.9" cy="1843.6" r="3.5" fill="#00c29e"/><circle cx="2398" cy="1836.6" r="3.5" fill="#00c39e"/><circle cx="2401.2" cy="1832.2" r="3.5" fill="#00c49d"/><circle cx="2404.3" cy="1830.9" r="3.5" fill="#00c59c"/><circle cx="2407.4" cy="1829" r="3.5" fill="#00c69c"/><circle cx="2410.6" cy="1826.9" r="3.5" fill="#00c69c"/><circle cx="2413.7" cy="1824.4" r="3.5" fill="#00c79c"/><circle cx="2416.9" cy="1822.7" r="3.5" fill="#00c89b"/><circle cx="2420" cy="1824.1" r="3.5" fill="#00c99b"/><circle cx="2423.1" cy="1827.3" r="3.5" fill="#00ca9a"/><circle cx="2426.3" cy="1831.4" r="3.5" fill="#00cb9a"/><circle cx="2429.4" cy="1833" r="3.5" fill="#00cc99"/><circle cx="2432.6" cy="1830.1" r="3.5" fill="#00cc99"/><circle cx="2435.7" cy="1825.2" r="3.5" fill="#00cd98"/><circle cx="2438.8" cy="1822.1" r="3.5" fill="#00ce98"/><circle cx="2442" cy="1822.1" r="3.5" fill="#00cf98"/><circle cx="2445.1" cy="1822.9" r="3.5" fill="#00d097"/><circle cx="2448.3" cy="1822.9" r="3.5" fill="#00d196"/><circle cx="2451.4" cy="1819.1" r="3.5" fill="#00d296"/><circle cx="2454.5" cy="1815.2" r="3.5" fill="#00d396"/><circle cx="2457.7" cy="1812.2" r="3.5" fill="#00d396"/><circle cx="2460.8" cy="1813.2" r="3.5" fill="#00d495"/><circle cx="2464" cy="1813.9" r="3.5" fill="#00d594"/><circle cx="2467.1" cy="1814.3" r="3.5" fill="#00d694"/><circle cx="2470.2" cy="1816.3" r="3.5" fill="#00d793"/><circle cx="2473.4" cy="1820.8" r="3.5" fill="#00d893"/><circle cx="2476.5" cy="1828.1" r="3.5" fill="#00d992"/><circle cx="2479.6" cy="1833.9" r="3.5" fill="#00d992"/><circle cx="2482.8" cy="1837.5" r="3.5" fill="#00da92"/><circle cx="2485.9" cy="1836.8" r="3.5" fill="#00db92"/><circle cx="2489.1" cy="1832.9" r="3.5" fill="#00dc91"/><circle cx="2492.2" cy="1826.9" r="3.5" fill="#00dd90"/><circle cx="2495.3" cy="1820.8" r="3.5" fill="#00de90"/><circle cx="2498.5" cy="1817.2" r="3.5" fill="#00df90"/><circle cx="2501.6" cy="1816.5" r="3.5" fill="#00df90"/><circle cx="2504.8" cy="1818" r="3.5" fill="#00e08f"/><circle cx="2507.9" cy="1821.1" r="3.5" fill="#00e18e"/><circle cx="2511" cy="1825.7" r="3.5" fill="#00e28e"/><circle cx="2514.2" cy="1827.7" r="3.5" fill="#00e38e"/><circle cx="2517.3" cy="1829" r="3.5" fill="#00e48d"/><circle cx="2520.5" cy="1829.3" r="3.5" fill="#00e58c"/><circle cx="2523.6" cy="1829" r="3.5" fill="#00e68c"/><circle cx="2526.7" cy="1828.1" r="3.5" fill="#00e68c"/><circle cx="2529.9" cy="1826.9" r="3.5" fill="#00e78c"/><circle cx="2533" cy="1825.7" r="3.5" fill="#00e88b"/><circle cx="2536.1" cy="1825.2" r="3.5" fill="#00e98b"/><circle cx="2539.3" cy="1825.2" r="3.5" fill="#00ea8a"/><circle cx="2542.4" cy="1825.4" r="3.5" fill="#00eb8a"/><circle cx="2545.6" cy="1825.6" r="3.5" fill="#00ec89"/><circle cx="2548.7" cy="1825.7" r="3.5" fill="#00ec89"/><circle cx="2551.8" cy="1825.7" r="3.5" fill="#00ed88"/><circle cx="2555" cy="1825.7" r="3.5" fill="#00ee88"/><circle cx="2558.1" cy="1825.7" r="3.5" fill="#00ef88"/><circle cx="2561.3" cy="1826" r="3.5" fill="#00f087"/><circle cx="2564.4" cy="1826.9" r="3.5" fill="#00f186"/><circle cx="2567.5" cy="1828.1" r="3.5" fill="#00f286"/><circle cx="2570.7" cy="1829.8" r="3.5" fill="#00f386"/><circle cx="2573.8" cy="1831.4" r="3.5" fill="#00f386"/><circle cx="2577" cy="1832.9" r="3.5" fill="#00f485"/><circle cx="2580.1" cy="1834.2" r="3.5" fill="#00f584"/><circle cx="2583.2" cy="1835.1" r="3.5" fill="#00f684"/><circle cx="2586.4" cy="1834.9" r="3.5" fill="#00f784"/><circle cx="2589.5" cy="1833.9" r="3.5" fill="#00f883"/><circle cx="2592.6" cy="1831.7" r="3.5" fill="#00f982"/><circle cx="2595.8" cy="1829" r="3.5" fill="#00f982"/><circle cx="2598.9" cy="1825.2" r="3.5" fill="#00fa82"/><circle cx="2602.1" cy="1821.8" r="3.5" fill="#00fb82"/><circle cx="2605.2" cy="1820" r="3.5" fill="#00fc81"/><circle cx="2608.3" cy="1819.7" r="3.5" fill="#00fd80"/><circle cx="2611.5" cy="1820.5" r="3.5" fill="#00fe80"/><circle cx="2614.6" cy="1824.1" r="3.5" fill="#00ff80"/><circle cx="2617.8" cy="1829.8" r="3.5" fill="#00ff80"/></g>
<g clip-path="url(#cBR)"><circle cx="1688.6" cy="1827" r="3.5" fill="#ff0000"/><circle cx="1691.8" cy="1856.4" r="3.5" fill="#ff0000"/><circle cx="1694.9" cy="1888.8" r="3.5" fill="#ff0100"/><circle cx="1698" cy="1916.7" r="3.5" fill="#ff0200"/><circle cx="1701.2" cy="1935.5" r="3.5" fill="#ff0300"/><circle cx="1704.3" cy="1947.7" r="3.5" fill="#ff0400"/><circle cx="1707.5" cy="1953.8" r="3.5" fill="#ff0500"/><circle cx="1710.6" cy="1955.9" r="3.5" fill="#ff0600"/><circle cx="1713.7" cy="1955.4" r="3.5" fill="#ff0600"/><circle cx="1716.9" cy="1953" r="3.5" fill="#ff0700"/><circle cx="1720" cy="1948.8" r="3.5" fill="#ff0800"/><circle cx="1723.1" cy="1943.2" r="3.5" fill="#ff0900"/><circle cx="1726.3" cy="1934.6" r="3.5" fill="#ff0a00"/><circle cx="1729.4" cy="1926.6" r="3.5" fill="#ff0b00"/><circle cx="1732.6" cy="1920.9" r="3.5" fill="#ff0c00"/><circle cx="1735.7" cy="1919.9" r="3.5" fill="#ff0c00"/><circle cx="1738.8" cy="1921.2" r="3.5" fill="#ff0d00"/><circle cx="1742" cy="1924.1" r="3.5" fill="#ff0e00"/><circle cx="1745.1" cy="1926.4" r="3.5" fill="#ff0f00"/><circle cx="1748.3" cy="1926.6" r="3.5" fill="#ff1000"/><circle cx="1751.4" cy="1923.6" r="3.5" fill="#ff1100"/><circle cx="1754.5" cy="1920.3" r="3.5" fill="#ff1200"/><circle cx="1757.7" cy="1915.8" r="3.5" fill="#ff1300"/><circle cx="1760.8" cy="1910.6" r="3.5" fill="#ff1300"/><circle cx="1764" cy="1905" r="3.5" fill="#ff1400"/><circle cx="1767.1" cy="1901.3" r="3.5" fill="#ff1500"/><circle cx="1770.2" cy="1898.9" r="3.5" fill="#ff1600"/><circle cx="1773.4" cy="1898.1" r="3.5" fill="#ff1700"/><circle cx="1776.5" cy="1898.9" r="3.5" fill="#ff1800"/><circle cx="1779.6" cy="1900.8" r="3.5" fill="#ff1900"/><circle cx="1782.8" cy="1903.3" r="3.5" fill="#ff1900"/><circle cx="1785.9" cy="1906.9" r="3.5" fill="#ff1a00"/><circle cx="1789.1" cy="1911.1" r="3.5" fill="#ff1b00"/><circle cx="1792.2" cy="1914.8" r="3.5" fill="#ff1c00"/><circle cx="1795.3" cy="1917.4" r="3.5" fill="#ff1d00"/><circle cx="1798.5" cy="1918.7" r="3.5" fill="#ff1e00"/><circle cx="1801.6" cy="1918.7" r="3.5" fill="#ff1f00"/><circle cx="1804.8" cy="1916.7" r="3.5" fill="#ff1f00"/><circle cx="1807.9" cy="1909.5" r="3.5" fill="#ff2000"/><circle cx="1811" cy="1889.9" r="3.5" fill="#ff2100"/><circle cx="1814.2" cy="1865.5" r="3.5" fill="#ff2200"/><circle cx="1817.3" cy="1839.4" r="3.5" fill="#ff2300"/><circle cx="1820.5" cy="1811.5" r="3.5" fill="#ff2400"/><circle cx="1823.6" cy="1785" r="3.5" fill="#ff2500"/><circle cx="1826.7" cy="1764.6" r="3.5" fill="#ff2600"/><circle cx="1829.9" cy="1747.7" r="3.5" fill="#ff2600"/><circle cx="1833" cy="1738.8" r="3.5" fill="#ff2700"/><circle cx="1836.2" cy="1738.4" r="3.5" fill="#ff2800"/><circle cx="1839.3" cy="1746.2" r="3.5" fill="#ff2900"/><circle cx="1842.4" cy="1750.4" r="3.5" fill="#ff2a00"/><circle cx="1845.6" cy="1752.3" r="3.5" fill="#ff2b00"/><circle cx="1848.7" cy="1755.3" r="3.5" fill="#ff2c00"/><circle cx="1851.8" cy="1756.3" r="3.5" fill="#ff2c00"/><circle cx="1855" cy="1756.9" r="3.5" fill="#ff2d00"/><circle cx="1858.1" cy="1761.2" r="3.5" fill="#ff2e00"/><circle cx="1861.3" cy="1767.5" r="3.5" fill="#ff2f00"/><circle cx="1864.4" cy="1775.6" r="3.5" fill="#ff3000"/><circle cx="1867.5" cy="1786.4" r="3.5" fill="#ff3100"/><circle cx="1870.7" cy="1800.5" r="3.5" fill="#ff3200"/><circle cx="1873.8" cy="1802.1" r="3.5" fill="#ff3300"/><circle cx="1877" cy="1793.1" r="3.5" fill="#ff3300"/><circle cx="1880.1" cy="1788.6" r="3.5" fill="#ff3400"/><circle cx="1883.2" cy="1785.1" r="3.5" fill="#ff3500"/><circle cx="1886.4" cy="1788.4" r="3.5" fill="#ff3600"/><circle cx="1889.5" cy="1802.6" r="3.5" fill="#ff3700"/><circle cx="1892.7" cy="1815.2" r="3.5" fill="#ff3800"/><circle cx="1895.8" cy="1824.4" r="3.5" fill="#ff3900"/><circle cx="1898.9" cy="1840.4" r="3.5" fill="#ff3900"/><circle cx="1902.1" cy="1851" r="3.5" fill="#ff3a00"/><circle cx="1905.2" cy="1852.6" r="3.5" fill="#ff3b00"/><circle cx="1908.3" cy="1849" r="3.5" fill="#ff3c00"/><circle cx="1911.5" cy="1842.5" r="3.5" fill="#ff3d00"/><circle cx="1914.6" cy="1840.8" r="3.5" fill="#ff3e00"/><circle cx="1917.8" cy="1845.7" r="3.5" fill="#ff3f00"/><circle cx="1920.9" cy="1848.6" r="3.5" fill="#ff3f00"/><circle cx="1924" cy="1851.2" r="3.5" fill="#ff4000"/><circle cx="1927.2" cy="1849.9" r="3.5" fill="#ff4100"/><circle cx="1930.3" cy="1837.5" r="3.5" fill="#ff4200"/><circle cx="1933.5" cy="1830.6" r="3.5" fill="#ff4300"/><circle cx="1936.6" cy="1838.8" r="3.5" fill="#ff4400"/><circle cx="1939.7" cy="1846" r="3.5" fill="#ff4500"/><circle cx="1942.9" cy="1848.6" r="3.5" fill="#ff4600"/><circle cx="1946" cy="1836.4" r="3.5" fill="#ff4600"/><circle cx="1949.2" cy="1822.1" r="3.5" fill="#ff4700"/><circle cx="1952.3" cy="1816.5" r="3.5" fill="#ff4800"/><circle cx="1955.4" cy="1819.1" r="3.5" fill="#ff4900"/><circle cx="1958.6" cy="1827.3" r="3.5" fill="#ff4a00"/><circle cx="1961.7" cy="1829.6" r="3.5" fill="#ff4b00"/><circle cx="1964.8" cy="1825.7" r="3.5" fill="#ff4c00"/><circle cx="1968" cy="1818.4" r="3.5" fill="#ff4c00"/><circle cx="1971.1" cy="1813.5" r="3.5" fill="#ff4d00"/><circle cx="1974.3" cy="1816.3" r="3.5" fill="#ff4e00"/><circle cx="1977.4" cy="1819.1" r="3.5" fill="#ff4f00"/><circle cx="1980.5" cy="1822.4" r="3.5" fill="#ff5000"/><circle cx="1983.7" cy="1830.6" r="3.5" fill="#ff5100"/><circle cx="1986.8" cy="1842.5" r="3.5" fill="#ff5200"/><circle cx="1990" cy="1857.5" r="3.5" fill="#ff5300"/><circle cx="1993.1" cy="1876.1" r="3.5" fill="#ff5300"/><circle cx="1996.2" cy="1890.5" r="3.5" fill="#ff5400"/><circle cx="1999.4" cy="1893.8" r="3.5" fill="#ff5500"/><circle cx="2002.5" cy="1894.9" r="3.5" fill="#ff5600"/><circle cx="2005.7" cy="1894.1" r="3.5" fill="#ff5700"/><circle cx="2008.8" cy="1886.6" r="3.5" fill="#ff5800"/><circle cx="2011.9" cy="1878.1" r="3.5" fill="#ff5900"/><circle cx="2015.1" cy="1870.9" r="3.5" fill="#ff5900"/><circle cx="2018.2" cy="1867.6" r="3.5" fill="#ff5a00"/><circle cx="2021.4" cy="1866.1" r="3.5" fill="#ff5b00"/><circle cx="2024.5" cy="1865.7" r="3.5" fill="#ff5c00"/><circle cx="2027.6" cy="1865.7" r="3.5" fill="#ff5d00"/><circle cx="2030.8" cy="1865.7" r="3.5" fill="#ff5e00"/><circle cx="2033.9" cy="1865.7" r="3.5" fill="#ff5f00"/><circle cx="2037" cy="1865.7" r="3.5" fill="#ff5f00"/><circle cx="2040.2" cy="1865.7" r="3.5" fill="#ff6000"/><circle cx="2043.3" cy="1866.1" r="3.5" fill="#ff6100"/><circle cx="2046.5" cy="1866.8" r="3.5" fill="#ff6200"/><circle cx="2049.6" cy="1867.6" r="3.5" fill="#ff6300"/><circle cx="2052.7" cy="1868.9" r="3.5" fill="#ff6400"/><circle cx="2055.9" cy="1869.6" r="3.5" fill="#ff6500"/><circle cx="2059" cy="1870.2" r="3.5" fill="#ff6600"/><circle cx="2062.2" cy="1870.2" r="3.5" fill="#ff6600"/><circle cx="2065.3" cy="1869.6" r="3.5" fill="#ff6700"/><circle cx="2068.4" cy="1868.1" r="3.5" fill="#ff6800"/><circle cx="2071.6" cy="1865.7" r="3.5" fill="#ff6900"/><circle cx="2074.7" cy="1863.5" r="3.5" fill="#ff6a00"/><circle cx="2077.9" cy="1861.7" r="3.5" fill="#ff6b00"/><circle cx="2081" cy="1860.7" r="3.5" fill="#ff6c00"/><circle cx="2084.1" cy="1859.6" r="3.5" fill="#ff6c00"/><circle cx="2087.3" cy="1858.4" r="3.5" fill="#ff6d00"/><circle cx="2090.4" cy="1856.4" r="3.5" fill="#ff6e00"/><circle cx="2093.5" cy="1855.5" r="3.5" fill="#ff6f00"/><circle cx="2096.7" cy="1855.8" r="3.5" fill="#ff7000"/><circle cx="2099.8" cy="1858.4" r="3.5" fill="#ff7100"/><circle cx="2103" cy="1860.7" r="3.5" fill="#ff7200"/><circle cx="2106.1" cy="1861.5" r="3.5" fill="#ff7300"/><circle cx="2109.2" cy="1861.1" r="3.5" fill="#ff7300"/><circle cx="2112.4" cy="1861.1" r="3.5" fill="#ff7400"/><circle cx="2115.5" cy="1861.7" r="3.5" fill="#ff7500"/><circle cx="2118.7" cy="1863.5" r="3.5" fill="#ff7600"/><circle cx="2121.8" cy="1864.8" r="3.5" fill="#ff7700"/><circle cx="2124.9" cy="1866.3" r="3.5" fill="#ff7800"/><circle cx="2128.1" cy="1869.6" r="3.5" fill="#ff7900"/><circle cx="2131.2" cy="1875.1" r="3.5" fill="#ff7900"/><circle cx="2134.4" cy="1877.4" r="3.5" fill="#ff7a00"/><circle cx="2137.5" cy="1878.4" r="3.5" fill="#ff7b00"/><circle cx="2140.6" cy="1876.8" r="3.5" fill="#ff7c00"/><circle cx="2143.8" cy="1874.6" r="3.5" fill="#ff7d00"/><circle cx="2146.9" cy="1873.5" r="3.5" fill="#ff7e00"/><circle cx="2150.1" cy="1874.2" r="3.5" fill="#ff7f00"/><circle cx="2153.2" cy="1874.6" r="3.5" fill="#ff7f00"/><circle cx="2156.3" cy="1877" r="3.5" fill="#ff8000"/><circle cx="2159.5" cy="1880.1" r="3.5" fill="#ff8100"/><circle cx="2162.6" cy="1883.3" r="3.5" fill="#ff8200"/><circle cx="2165.7" cy="1884.8" r="3.5" fill="#ff8300"/><circle cx="2168.9" cy="1884.6" r="3.5" fill="#ff8400"/><circle cx="2172" cy="1883.9" r="3.5" fill="#ff8500"/><circle cx="2175.2" cy="1882.4" r="3.5" fill="#ff8600"/><circle cx="2178.3" cy="1881.1" r="3.5" fill="#ff8600"/><circle cx="2181.4" cy="1879.8" r="3.5" fill="#ff8700"/><circle cx="2184.6" cy="1878.8" r="3.5" fill="#ff8800"/><circle cx="2187.7" cy="1877.4" r="3.5" fill="#ff8900"/><circle cx="2190.9" cy="1877" r="3.5" fill="#ff8a00"/><circle cx="2194" cy="1876.5" r="3.5" fill="#ff8b00"/><circle cx="2197.1" cy="1875.1" r="3.5" fill="#ff8c00"/><circle cx="2200.3" cy="1871.4" r="3.5" fill="#ff8c00"/><circle cx="2203.4" cy="1867.2" r="3.5" fill="#ff8d00"/><circle cx="2206.6" cy="1866" r="3.5" fill="#ff8e00"/><circle cx="2209.7" cy="1866.3" r="3.5" fill="#ff8f00"/><circle cx="2212.8" cy="1866.8" r="3.5" fill="#ff9000"/><circle cx="2216" cy="1864.3" r="3.5" fill="#ff9100"/><circle cx="2219.1" cy="1860.7" r="3.5" fill="#ff9200"/><circle cx="2222.2" cy="1855.8" r="3.5" fill="#ff9300"/><circle cx="2225.4" cy="1850.5" r="3.5" fill="#ff9300"/><circle cx="2228.5" cy="1846.6" r="3.5" fill="#ff9400"/><circle cx="2231.7" cy="1844.4" r="3.5" fill="#ff9500"/><circle cx="2234.8" cy="1843.6" r="3.5" fill="#ff9600"/><circle cx="2237.9" cy="1844" r="3.5" fill="#ff9700"/><circle cx="2241.1" cy="1844.4" r="3.5" fill="#ff9800"/><circle cx="2244.2" cy="1844.7" r="3.5" fill="#ff9900"/><circle cx="2247.4" cy="1845.7" r="3.5" fill="#ff9900"/><circle cx="2250.5" cy="1848.2" r="3.5" fill="#ff9a00"/><circle cx="2253.6" cy="1851" r="3.5" fill="#ff9b00"/><circle cx="2256.8" cy="1853.1" r="3.5" fill="#ff9c00"/><circle cx="2259.9" cy="1854.2" r="3.5" fill="#ff9d00"/><circle cx="2263.1" cy="1853.9" r="3.5" fill="#ff9e00"/><circle cx="2266.2" cy="1852.6" r="3.5" fill="#ff9f00"/><circle cx="2269.3" cy="1851" r="3.5" fill="#ff9f00"/><circle cx="2272.5" cy="1849.9" r="3.5" fill="#ffa000"/><circle cx="2275.6" cy="1849" r="3.5" fill="#ffa100"/><circle cx="2278.7" cy="1849" r="3.5" fill="#ffa200"/><circle cx="2281.9" cy="1850.5" r="3.5" fill="#ffa300"/><circle cx="2285" cy="1853.9" r="3.5" fill="#ffa400"/><circle cx="2288.2" cy="1857.8" r="3.5" fill="#ffa500"/><circle cx="2291.3" cy="1861.1" r="3.5" fill="#ffa600"/><circle cx="2294.4" cy="1862.7" r="3.5" fill="#ffa600"/><circle cx="2297.6" cy="1862.7" r="3.5" fill="#ffa700"/><circle cx="2300.7" cy="1864.8" r="3.5" fill="#ffa800"/><circle cx="2303.9" cy="1871.8" r="3.5" fill="#ffa900"/><circle cx="2307" cy="1882.7" r="3.5" fill="#ffaa00"/><circle cx="2310.1" cy="1892.2" r="3.5" fill="#ffab00"/><circle cx="2313.3" cy="1899.1" r="3.5" fill="#ffac00"/><circle cx="2316.4" cy="1904.3" r="3.5" fill="#ffac00"/><circle cx="2319.6" cy="1907.8" r="3.5" fill="#ffad00"/><circle cx="2322.7" cy="1910.8" r="3.5" fill="#ffae00"/><circle cx="2325.8" cy="1913.2" r="3.5" fill="#ffaf00"/><circle cx="2329" cy="1914.8" r="3.5" fill="#ffb000"/><circle cx="2332.1" cy="1916" r="3.5" fill="#ffb100"/><circle cx="2335.3" cy="1916.5" r="3.5" fill="#ffb200"/><circle cx="2338.4" cy="1916.7" r="3.5" fill="#ffb300"/><circle cx="2341.5" cy="1916.7" r="3.5" fill="#ffb300"/><circle cx="2344.7" cy="1916.7" r="3.5" fill="#ffb400"/><circle cx="2347.8" cy="1916.7" r="3.5" fill="#ffb500"/><circle cx="2350.9" cy="1915.8" r="3.5" fill="#ffb600"/><circle cx="2354.1" cy="1916.2" r="3.5" fill="#ffb700"/><circle cx="2357.2" cy="1916.2" r="3.5" fill="#ffb800"/><circle cx="2360.4" cy="1916.2" r="3.5" fill="#ffb900"/><circle cx="2363.5" cy="1915.7" r="3.5" fill="#ffb900"/><circle cx="2366.6" cy="1916" r="3.5" fill="#ffba00"/><circle cx="2369.8" cy="1915.9" r="3.5" fill="#ffbb00"/><circle cx="2372.9" cy="1915.9" r="3.5" fill="#ffbc00"/><circle cx="2376.1" cy="1915.6" r="3.5" fill="#ffbd00"/><circle cx="2379.2" cy="1914.7" r="3.5" fill="#ffbe00"/><circle cx="2382.3" cy="1913.5" r="3.5" fill="#ffbf00"/><circle cx="2385.5" cy="1912.3" r="3.5" fill="#ffbf00"/><circle cx="2388.6" cy="1910.1" r="3.5" fill="#ffc000"/><circle cx="2391.8" cy="1907.8" r="3.5" fill="#ffc100"/><circle cx="2394.9" cy="1905" r="3.5" fill="#ffc200"/><circle cx="2398" cy="1901.9" r="3.5" fill="#ffc300"/><circle cx="2401.2" cy="1898.7" r="3.5" fill="#ffc400"/><circle cx="2404.3" cy="1896.8" r="3.5" fill="#ffc500"/><circle cx="2407.4" cy="1897.7" r="3.5" fill="#ffc600"/><circle cx="2410.6" cy="1899.4" r="3.5" fill="#ffc600"/><circle cx="2413.7" cy="1902.3" r="3.5" fill="#ffc700"/><circle cx="2416.9" cy="1905" r="3.5" fill="#ffc800"/><circle cx="2420" cy="1906.1" r="3.5" fill="#ffc900"/><circle cx="2423.1" cy="1905.9" r="3.5" fill="#ffca00"/><circle cx="2426.3" cy="1904.5" r="3.5" fill="#ffcb00"/><circle cx="2429.4" cy="1902.5" r="3.5" fill="#ffcc00"/><circle cx="2432.6" cy="1902.2" r="3.5" fill="#ffcc00"/><circle cx="2435.7" cy="1903" r="3.5" fill="#ffcd00"/><circle cx="2438.8" cy="1904" r="3.5" fill="#ffce00"/><circle cx="2442" cy="1905.3" r="3.5" fill="#ffcf00"/><circle cx="2445.1" cy="1907.1" r="3.5" fill="#ffd000"/><circle cx="2448.3" cy="1908" r="3.5" fill="#ffd100"/><circle cx="2451.4" cy="1907.6" r="3.5" fill="#ffd200"/><circle cx="2454.5" cy="1906" r="3.5" fill="#ffd300"/><circle cx="2457.7" cy="1903.4" r="3.5" fill="#ffd300"/><circle cx="2460.8" cy="1900.6" r="3.5" fill="#ffd400"/><circle cx="2464" cy="1899.7" r="3.5" fill="#ffd500"/><circle cx="2467.1" cy="1900.4" r="3.5" fill="#ffd600"/><circle cx="2470.2" cy="1902.1" r="3.5" fill="#ffd700"/><circle cx="2473.4" cy="1904.1" r="3.5" fill="#ffd800"/><circle cx="2476.5" cy="1903.3" r="3.5" fill="#ffd900"/><circle cx="2479.6" cy="1902.7" r="3.5" fill="#ffd900"/><circle cx="2482.8" cy="1902.3" r="3.5" fill="#ffda00"/><circle cx="2485.9" cy="1899.7" r="3.5" fill="#ffdb00"/><circle cx="2489.1" cy="1897.2" r="3.5" fill="#ffdc00"/><circle cx="2492.2" cy="1894.8" r="3.5" fill="#ffdd00"/><circle cx="2495.3" cy="1894.3" r="3.5" fill="#ffde00"/><circle cx="2498.5" cy="1895.5" r="3.5" fill="#ffdf00"/><circle cx="2501.6" cy="1898.1" r="3.5" fill="#ffdf00"/><circle cx="2504.8" cy="1901.7" r="3.5" fill="#ffe000"/><circle cx="2507.9" cy="1903.8" r="3.5" fill="#ffe100"/><circle cx="2511" cy="1904.3" r="3.5" fill="#ffe200"/><circle cx="2514.2" cy="1905.1" r="3.5" fill="#ffe300"/><circle cx="2517.3" cy="1904.3" r="3.5" fill="#ffe400"/><circle cx="2520.5" cy="1901.7" r="3.5" fill="#ffe500"/><circle cx="2523.6" cy="1898.4" r="3.5" fill="#ffe600"/><circle cx="2526.7" cy="1896" r="3.5" fill="#ffe600"/><circle cx="2529.9" cy="1895.7" r="3.5" fill="#ffe700"/><circle cx="2533" cy="1896" r="3.5" fill="#ffe800"/><circle cx="2536.1" cy="1896.9" r="3.5" fill="#ffe900"/><circle cx="2539.3" cy="1897.7" r="3.5" fill="#ffea00"/><circle cx="2542.4" cy="1898.4" r="3.5" fill="#ffeb00"/><circle cx="2545.6" cy="1897.4" r="3.5" fill="#ffec00"/><circle cx="2548.7" cy="1896.8" r="3.5" fill="#ffec00"/><circle cx="2551.8" cy="1896.8" r="3.5" fill="#ffed00"/><circle cx="2555" cy="1900" r="3.5" fill="#ffee00"/><circle cx="2558.1" cy="1905.3" r="3.5" fill="#ffef00"/><circle cx="2561.3" cy="1907.2" r="3.5" fill="#fff000"/><circle cx="2564.4" cy="1908.4" r="3.5" fill="#fff100"/><circle cx="2567.5" cy="1909.1" r="3.5" fill="#fff200"/><circle cx="2570.7" cy="1909" r="3.5" fill="#fff300"/><circle cx="2573.8" cy="1908.7" r="3.5" fill="#fff300"/><circle cx="2577" cy="1908.7" r="3.5" fill="#fff400"/><circle cx="2580.1" cy="1908.9" r="3.5" fill="#fff500"/><circle cx="2583.2" cy="1908.9" r="3.5" fill="#fff600"/><circle cx="2586.4" cy="1908.5" r="3.5" fill="#fff700"/><circle cx="2589.5" cy="1907.7" r="3.5" fill="#fff800"/><circle cx="2592.6" cy="1907.1" r="3.5" fill="#fff900"/><circle cx="2595.8" cy="1905" r="3.5" fill="#fff900"/><circle cx="2598.9" cy="1901.5" r="3.5" fill="#fffa00"/><circle cx="2602.1" cy="1897.9" r="3.5" fill="#fffb00"/><circle cx="2605.2" cy="1894.3" r="3.5" fill="#fffc00"/><circle cx="2608.3" cy="1890.7" r="3.5" fill="#fffd00"/><circle cx="2611.5" cy="1888.6" r="3.5" fill="#fffe00"/><circle cx="2614.6" cy="1889.6" r="3.5" fill="#ffff00"/><circle cx="2617.8" cy="1891.7" r="3.5" fill="#ffff00"/></g>
<g clip-path="url(#cBR)"><circle cx="1688.6" cy="1545.3" r="3.5" fill="#8000ff"/><circle cx="1691.8" cy="1557.1" r="3.5" fill="#8000ff"/><circle cx="1694.9" cy="1562.4" r="3.5" fill="#7e03ff"/><circle cx="1698" cy="1555.2" r="3.5" fill="#7c06ff"/><circle cx="1701.2" cy="1538.1" r="3.5" fill="#7a09ff"/><circle cx="1704.3" cy="1519.1" r="3.5" fill="#780dff"/><circle cx="1707.5" cy="1505.1" r="3.5" fill="#7610ff"/><circle cx="1710.6" cy="1498.4" r="3.5" fill="#7413ff"/><circle cx="1713.7" cy="1500.1" r="3.5" fill="#7413ff"/><circle cx="1716.9" cy="1508.7" r="3.5" fill="#7216ff"/><circle cx="1720" cy="1522" r="3.5" fill="#7019ff"/><circle cx="1723.1" cy="1540.1" r="3.5" fill="#6e1cff"/><circle cx="1726.3" cy="1556" r="3.5" fill="#6c1fff"/><circle cx="1729.4" cy="1568.3" r="3.5" fill="#6a22fe"/><circle cx="1732.6" cy="1574.2" r="3.5" fill="#6826fe"/><circle cx="1735.7" cy="1572.5" r="3.5" fill="#6826fe"/><circle cx="1738.8" cy="1568.4" r="3.5" fill="#6629fe"/><circle cx="1742" cy="1561.3" r="3.5" fill="#642cfe"/><circle cx="1745.1" cy="1550.2" r="3.5" fill="#622ffe"/><circle cx="1748.3" cy="1537" r="3.5" fill="#6032fe"/><circle cx="1751.4" cy="1520.4" r="3.5" fill="#5e35fe"/><circle cx="1754.5" cy="1501.6" r="3.5" fill="#5c38fd"/><circle cx="1757.7" cy="1485.1" r="3.5" fill="#5a3bfd"/><circle cx="1760.8" cy="1467.1" r="3.5" fill="#5a3bfd"/><circle cx="1764" cy="1448.4" r="3.5" fill="#583efd"/><circle cx="1767.1" cy="1432.9" r="3.5" fill="#5641fd"/><circle cx="1770.2" cy="1422.4" r="3.5" fill="#5444fd"/><circle cx="1773.4" cy="1414.3" r="3.5" fill="#5247fc"/><circle cx="1776.5" cy="1407.6" r="3.5" fill="#504afc"/><circle cx="1779.6" cy="1403.3" r="3.5" fill="#4e4dfc"/><circle cx="1782.8" cy="1399.3" r="3.5" fill="#4e4dfc"/><circle cx="1785.9" cy="1398.6" r="3.5" fill="#4c50fc"/><circle cx="1789.1" cy="1402" r="3.5" fill="#4a53fb"/><circle cx="1792.2" cy="1407.5" r="3.5" fill="#4856fb"/><circle cx="1795.3" cy="1413.7" r="3.5" fill="#4659fb"/><circle cx="1798.5" cy="1417.2" r="3.5" fill="#445cfb"/><circle cx="1801.6" cy="1416.3" r="3.5" fill="#425ffa"/><circle cx="1804.8" cy="1411.1" r="3.5" fill="#425ffa"/><circle cx="1807.9" cy="1397.3" r="3.5" fill="#4062fa"/><circle cx="1811" cy="1368.5" r="3.5" fill="#3d65fa"/><circle cx="1814.2" cy="1334.4" r="3.5" fill="#3c68f9"/><circle cx="1817.3" cy="1301" r="3.5" fill="#396bf9"/><circle cx="1820.5" cy="1265.6" r="3.5" fill="#386df9"/><circle cx="1823.6" cy="1233.5" r="3.5" fill="#3570f8"/><circle cx="1826.7" cy="1208.6" r="3.5" fill="#3473f8"/><circle cx="1829.9" cy="1189" r="3.5" fill="#3473f8"/><circle cx="1833" cy="1179.2" r="3.5" fill="#3176f8"/><circle cx="1836.2" cy="1178.5" r="3.5" fill="#3079f7"/><circle cx="1839.3" cy="1188" r="3.5" fill="#2d7bf7"/><circle cx="1842.4" cy="1194.2" r="3.5" fill="#2c7ef7"/><circle cx="1845.6" cy="1197.5" r="3.5" fill="#2981f6"/><circle cx="1848.7" cy="1201.7" r="3.5" fill="#2884f6"/><circle cx="1851.8" cy="1204.1" r="3.5" fill="#2884f6"/><circle cx="1855" cy="1206.7" r="3.5" fill="#2586f5"/><circle cx="1858.1" cy="1211.3" r="3.5" fill="#2489f5"/><circle cx="1861.3" cy="1218.5" r="3.5" fill="#218cf4"/><circle cx="1864.4" cy="1227" r="3.5" fill="#208ef4"/><circle cx="1867.5" cy="1237.5" r="3.5" fill="#1d91f3"/><circle cx="1870.7" cy="1250.8" r="3.5" fill="#1c93f3"/><circle cx="1873.8" cy="1251.2" r="3.5" fill="#1996f3"/><circle cx="1877" cy="1240.4" r="3.5" fill="#1996f3"/><circle cx="1880.1" cy="1234.2" r="3.5" fill="#1898f2"/><circle cx="1883.2" cy="1228.6" r="3.5" fill="#159bf2"/><circle cx="1886.4" cy="1230.9" r="3.5" fill="#149df1"/><circle cx="1889.5" cy="1244.7" r="3.5" fill="#11a0f1"/><circle cx="1892.7" cy="1252.5" r="3.5" fill="#10a2f0"/><circle cx="1895.8" cy="1252.5" r="3.5" fill="#0da5ef"/><circle cx="1898.9" cy="1259.7" r="3.5" fill="#0da5ef"/><circle cx="1902.1" cy="1259.7" r="3.5" fill="#0ca7ef"/><circle cx="1905.2" cy="1251.2" r="3.5" fill="#09a9ee"/><circle cx="1908.3" cy="1243.4" r="3.5" fill="#08acee"/><circle cx="1911.5" cy="1239.6" r="3.5" fill="#05aeed"/><circle cx="1914.6" cy="1244" r="3.5" fill="#04b0ed"/><circle cx="1917.8" cy="1255.2" r="3.5" fill="#01b3ec"/><circle cx="1920.9" cy="1250.8" r="3.5" fill="#01b3ec"/><circle cx="1924" cy="1241.6" r="3.5" fill="#00b5eb"/><circle cx="1927.2" cy="1223.1" r="3.5" fill="#02b7eb"/><circle cx="1930.3" cy="1194.2" r="3.5" fill="#05b9ea"/><circle cx="1933.5" cy="1180.1" r="3.5" fill="#07bbea"/><circle cx="1936.6" cy="1187.7" r="3.5" fill="#08bee9"/><circle cx="1939.7" cy="1194.2" r="3.5" fill="#0ac0e8"/><circle cx="1942.9" cy="1193.7" r="3.5" fill="#0dc2e8"/><circle cx="1946" cy="1176.8" r="3.5" fill="#0dc2e8"/><circle cx="1949.2" cy="1160.8" r="3.5" fill="#0fc4e7"/><circle cx="1952.3" cy="1157.9" r="3.5" fill="#10c6e6"/><circle cx="1955.4" cy="1169" r="3.5" fill="#12c8e6"/><circle cx="1958.6" cy="1193.6" r="3.5" fill="#15cae5"/><circle cx="1961.7" cy="1202.1" r="3.5" fill="#17cbe4"/><circle cx="1964.8" cy="1206.3" r="3.5" fill="#18cde4"/><circle cx="1968" cy="1203.4" r="3.5" fill="#18cde4"/><circle cx="1971.1" cy="1199.5" r="3.5" fill="#1acfe3"/><circle cx="1974.3" cy="1206.3" r="3.5" fill="#1dd1e2"/><circle cx="1977.4" cy="1219.8" r="3.5" fill="#1fd3e1"/><circle cx="1980.5" cy="1251.9" r="3.5" fill="#20d5e1"/><circle cx="1983.7" cy="1294.8" r="3.5" fill="#22d6e0"/><circle cx="1986.8" cy="1338.3" r="3.5" fill="#25d8df"/><circle cx="1990" cy="1389.4" r="3.5" fill="#27dade"/><circle cx="1993.1" cy="1444.5" r="3.5" fill="#27dade"/><circle cx="1996.2" cy="1483.4" r="3.5" fill="#28dbde"/><circle cx="1999.4" cy="1496.2" r="3.5" fill="#2adddd"/><circle cx="2002.5" cy="1517.8" r="3.5" fill="#2ddedc"/><circle cx="2005.7" cy="1557.8" r="3.5" fill="#2fe0db"/><circle cx="2008.8" cy="1577.4" r="3.5" fill="#30e1da"/><circle cx="2011.9" cy="1587.3" r="3.5" fill="#32e3da"/><circle cx="2015.1" cy="1605.6" r="3.5" fill="#32e3da"/><circle cx="2018.2" cy="1622.8" r="3.5" fill="#35e4d9"/><circle cx="2021.4" cy="1638" r="3.5" fill="#37e6d8"/><circle cx="2024.5" cy="1655.4" r="3.5" fill="#38e7d7"/><circle cx="2027.6" cy="1667.8" r="3.5" fill="#3ae8d6"/><circle cx="2030.8" cy="1677.7" r="3.5" fill="#3dead5"/><circle cx="2033.9" cy="1688.1" r="3.5" fill="#3febd5"/><circle cx="2037" cy="1698" r="3.5" fill="#3febd5"/><circle cx="2040.2" cy="1706.5" r="3.5" fill="#40ecd4"/><circle cx="2043.3" cy="1715" r="3.5" fill="#42edd3"/><circle cx="2046.5" cy="1717.8" r="3.5" fill="#45eed2"/><circle cx="2049.6" cy="1720.6" r="3.5" fill="#46efd1"/><circle cx="2052.7" cy="1723.5" r="3.5" fill="#48f1d0"/><circle cx="2055.9" cy="1725.5" r="3.5" fill="#4af2cf"/><circle cx="2059" cy="1727.6" r="3.5" fill="#4df3ce"/><circle cx="2062.2" cy="1729.3" r="3.5" fill="#4df3ce"/><circle cx="2065.3" cy="1730.4" r="3.5" fill="#4ef3cd"/><circle cx="2068.4" cy="1730.8" r="3.5" fill="#50f4cc"/><circle cx="2071.6" cy="1730.8" r="3.5" fill="#52f5cb"/><circle cx="2074.7" cy="1730.1" r="3.5" fill="#55f6cb"/><circle cx="2077.9" cy="1728.4" r="3.5" fill="#56f7ca"/><circle cx="2081" cy="1726.8" r="3.5" fill="#58f8c9"/><circle cx="2084.1" cy="1724.8" r="3.5" fill="#58f8c9"/><circle cx="2087.3" cy="1722.9" r="3.5" fill="#5af8c8"/><circle cx="2090.4" cy="1718.9" r="3.5" fill="#5df9c7"/><circle cx="2093.5" cy="1714.1" r="3.5" fill="#5efac6"/><circle cx="2096.7" cy="1710.4" r="3.5" fill="#60fac5"/><circle cx="2099.8" cy="1711.1" r="3.5" fill="#62fbc4"/><circle cx="2103" cy="1713.7" r="3.5" fill="#65fbc3"/><circle cx="2106.1" cy="1714.3" r="3.5" fill="#66fcc2"/><circle cx="2109.2" cy="1714.1" r="3.5" fill="#66fcc2"/><circle cx="2112.4" cy="1713.7" r="3.5" fill="#68fcc1"/><circle cx="2115.5" cy="1715.3" r="3.5" fill="#6afdc0"/><circle cx="2118.7" cy="1718.3" r="3.5" fill="#6dfdbf"/><circle cx="2121.8" cy="1719.8" r="3.5" fill="#6efebe"/><circle cx="2124.9" cy="1716.5" r="3.5" fill="#70febc"/><circle cx="2128.1" cy="1714.1" r="3.5" fill="#72febb"/><circle cx="2131.2" cy="1715.3" r="3.5" fill="#72febb"/><circle cx="2134.4" cy="1717" r="3.5" fill="#75feba"/><circle cx="2137.5" cy="1718.9" r="3.5" fill="#76ffb9"/><circle cx="2140.6" cy="1720.2" r="3.5" fill="#78ffb8"/><circle cx="2143.8" cy="1719.3" r="3.5" fill="#7affb7"/><circle cx="2146.9" cy="1718.5" r="3.5" fill="#7dffb6"/><circle cx="2150.1" cy="1717.4" r="3.5" fill="#7effb5"/><circle cx="2153.2" cy="1716.3" r="3.5" fill="#7effb5"/><circle cx="2156.3" cy="1715.4" r="3.5" fill="#80ffb4"/><circle cx="2159.5" cy="1714.6" r="3.5" fill="#82ffb3"/><circle cx="2162.6" cy="1713.7" r="3.5" fill="#84ffb2"/><circle cx="2165.7" cy="1715.3" r="3.5" fill="#86ffb0"/><circle cx="2168.9" cy="1716.5" r="3.5" fill="#89ffaf"/><circle cx="2172" cy="1716.5" r="3.5" fill="#8bfeae"/><circle cx="2175.2" cy="1714.6" r="3.5" fill="#8cfead"/><circle cx="2178.3" cy="1712.1" r="3.5" fill="#8cfead"/><circle cx="2181.4" cy="1710" r="3.5" fill="#8efeac"/><circle cx="2184.6" cy="1708.7" r="3.5" fill="#90feab"/><circle cx="2187.7" cy="1708" r="3.5" fill="#92fda9"/><circle cx="2190.9" cy="1707.6" r="3.5" fill="#94fda8"/><circle cx="2194" cy="1705.8" r="3.5" fill="#96fca7"/><circle cx="2197.1" cy="1703.5" r="3.5" fill="#99fca6"/><circle cx="2200.3" cy="1699.4" r="3.5" fill="#99fca6"/><circle cx="2203.4" cy="1693.7" r="3.5" fill="#9bfba5"/><circle cx="2206.6" cy="1691.7" r="3.5" fill="#9cfba4"/><circle cx="2209.7" cy="1692.4" r="3.5" fill="#9efaa2"/><circle cx="2212.8" cy="1693.4" r="3.5" fill="#a0faa1"/><circle cx="2216" cy="1691.4" r="3.5" fill="#a2f9a0"/><circle cx="2219.1" cy="1687.2" r="3.5" fill="#a4f89f"/><circle cx="2222.2" cy="1682.6" r="3.5" fill="#a6f89d"/><circle cx="2225.4" cy="1675.7" r="3.5" fill="#a6f89d"/><circle cx="2228.5" cy="1667.2" r="3.5" fill="#a9f79c"/><circle cx="2231.7" cy="1660.3" r="3.5" fill="#abf69b"/><circle cx="2234.8" cy="1656.2" r="3.5" fill="#acf59a"/><circle cx="2237.9" cy="1654.7" r="3.5" fill="#aef498"/><circle cx="2241.1" cy="1654.7" r="3.5" fill="#b0f397"/><circle cx="2244.2" cy="1655.8" r="3.5" fill="#b2f396"/><circle cx="2247.4" cy="1658" r="3.5" fill="#b2f396"/><circle cx="2250.5" cy="1661.3" r="3.5" fill="#b4f295"/><circle cx="2253.6" cy="1665.9" r="3.5" fill="#b6f193"/><circle cx="2256.8" cy="1671.1" r="3.5" fill="#b9ef92"/><circle cx="2259.9" cy="1678.3" r="3.5" fill="#bbee91"/><circle cx="2263.1" cy="1682.6" r="3.5" fill="#bced8f"/><circle cx="2266.2" cy="1683.6" r="3.5" fill="#beec8e"/><circle cx="2269.3" cy="1684.2" r="3.5" fill="#beec8e"/><circle cx="2272.5" cy="1685.5" r="3.5" fill="#c0eb8d"/><circle cx="2275.6" cy="1687.2" r="3.5" fill="#c2ea8c"/><circle cx="2278.7" cy="1691.7" r="3.5" fill="#c4e88a"/><circle cx="2281.9" cy="1698.6" r="3.5" fill="#c6e789"/><circle cx="2285" cy="1707.1" r="3.5" fill="#c9e688"/><circle cx="2288.2" cy="1715.6" r="3.5" fill="#cbe486"/><circle cx="2291.3" cy="1721.7" r="3.5" fill="#cce385"/><circle cx="2294.4" cy="1724.8" r="3.5" fill="#cce385"/><circle cx="2297.6" cy="1725.5" r="3.5" fill="#cee184"/><circle cx="2300.7" cy="1728.3" r="3.5" fill="#d0e082"/><circle cx="2303.9" cy="1737.3" r="3.5" fill="#d2de81"/><circle cx="2307" cy="1749.7" r="3.5" fill="#d4dd80"/><circle cx="2310.1" cy="1761.5" r="3.5" fill="#d6db7e"/><circle cx="2313.3" cy="1770.8" r="3.5" fill="#d9da7d"/><circle cx="2316.4" cy="1778.5" r="3.5" fill="#d9da7d"/><circle cx="2319.6" cy="1784.2" r="3.5" fill="#dbd87b"/><circle cx="2322.7" cy="1787.9" r="3.5" fill="#dcd67a"/><circle cx="2325.8" cy="1789.9" r="3.5" fill="#ded579"/><circle cx="2329" cy="1790.6" r="3.5" fill="#e0d377"/><circle cx="2332.1" cy="1789.9" r="3.5" fill="#e2d176"/><circle cx="2335.3" cy="1787.9" r="3.5" fill="#e4cf74"/><circle cx="2338.4" cy="1784.6" r="3.5" fill="#e6cd73"/><circle cx="2341.5" cy="1780.5" r="3.5" fill="#e6cd73"/><circle cx="2344.7" cy="1774.6" r="3.5" fill="#e9cb72"/><circle cx="2347.8" cy="1766.7" r="3.5" fill="#ebca70"/><circle cx="2350.9" cy="1757.2" r="3.5" fill="#ecc86f"/><circle cx="2354.1" cy="1748" r="3.5" fill="#eec66d"/><circle cx="2357.2" cy="1737.7" r="3.5" fill="#f0c46c"/><circle cx="2360.4" cy="1726.3" r="3.5" fill="#f2c26b"/><circle cx="2363.5" cy="1715.6" r="3.5" fill="#f2c26b"/><circle cx="2366.6" cy="1709.1" r="3.5" fill="#f4c069"/><circle cx="2369.8" cy="1707.1" r="3.5" fill="#f6be68"/><circle cx="2372.9" cy="1705.2" r="3.5" fill="#f9bb66"/><circle cx="2376.1" cy="1702.7" r="3.5" fill="#fbb965"/><circle cx="2379.2" cy="1700.7" r="3.5" fill="#fcb763"/><circle cx="2382.3" cy="1698.6" r="3.5" fill="#feb562"/><circle cx="2385.5" cy="1696.7" r="3.5" fill="#feb562"/><circle cx="2388.6" cy="1693.7" r="3.5" fill="#ffb360"/><circle cx="2391.8" cy="1689.6" r="3.5" fill="#ffb05f"/><circle cx="2394.9" cy="1683.2" r="3.5" fill="#ffae5e"/><circle cx="2398" cy="1673.1" r="3.5" fill="#ffac5c"/><circle cx="2401.2" cy="1665.5" r="3.5" fill="#ffa95b"/><circle cx="2404.3" cy="1662.3" r="3.5" fill="#ffa759"/><circle cx="2407.4" cy="1661.3" r="3.5" fill="#ffa558"/><circle cx="2410.6" cy="1660.8" r="3.5" fill="#ffa558"/><circle cx="2413.7" cy="1661.3" r="3.5" fill="#ffa256"/><circle cx="2416.9" cy="1662.3" r="3.5" fill="#ffa055"/><circle cx="2420" cy="1664.7" r="3.5" fill="#ff9d53"/><circle cx="2423.1" cy="1667.8" r="3.5" fill="#ff9b52"/><circle cx="2426.3" cy="1670.4" r="3.5" fill="#ff9850"/><circle cx="2429.4" cy="1670.1" r="3.5" fill="#ff964f"/><circle cx="2432.6" cy="1666.8" r="3.5" fill="#ff964f"/><circle cx="2435.7" cy="1662.8" r="3.5" fill="#ff934d"/><circle cx="2438.8" cy="1660.6" r="3.5" fill="#ff914c"/><circle cx="2442" cy="1661.9" r="3.5" fill="#ff8e4a"/><circle cx="2445.1" cy="1664.6" r="3.5" fill="#ff8c49"/><circle cx="2448.3" cy="1665.5" r="3.5" fill="#ff8947"/><circle cx="2451.4" cy="1661.3" r="3.5" fill="#ff8646"/><circle cx="2454.5" cy="1655.8" r="3.5" fill="#ff8444"/><circle cx="2457.7" cy="1650.1" r="3.5" fill="#ff8444"/><circle cx="2460.8" cy="1648.4" r="3.5" fill="#ff8143"/><circle cx="2464" cy="1648.2" r="3.5" fill="#ff7e41"/><circle cx="2467.1" cy="1649.2" r="3.5" fill="#ff7b40"/><circle cx="2470.2" cy="1653" r="3.5" fill="#ff793e"/><circle cx="2473.4" cy="1659.5" r="3.5" fill="#ff763d"/><circle cx="2476.5" cy="1666" r="3.5" fill="#ff733b"/><circle cx="2479.6" cy="1671.1" r="3.5" fill="#ff733b"/><circle cx="2482.8" cy="1674.4" r="3.5" fill="#ff703a"/><circle cx="2485.9" cy="1671.1" r="3.5" fill="#ff6d38"/><circle cx="2489.1" cy="1664.7" r="3.5" fill="#ff6b37"/><circle cx="2492.2" cy="1656.2" r="3.5" fill="#ff6835"/><circle cx="2495.3" cy="1649.8" r="3.5" fill="#ff6533"/><circle cx="2498.5" cy="1647.3" r="3.5" fill="#ff6232"/><circle cx="2501.6" cy="1649.2" r="3.5" fill="#ff6232"/><circle cx="2504.8" cy="1654.3" r="3.5" fill="#ff5f30"/><circle cx="2507.9" cy="1659.5" r="3.5" fill="#ff5c2f"/><circle cx="2511" cy="1664.6" r="3.5" fill="#ff592d"/><circle cx="2514.2" cy="1667.3" r="3.5" fill="#ff562c"/><circle cx="2517.3" cy="1667.8" r="3.5" fill="#ff532a"/><circle cx="2520.5" cy="1665.5" r="3.5" fill="#ff5029"/><circle cx="2523.6" cy="1661.9" r="3.5" fill="#ff4d27"/><circle cx="2526.7" cy="1658.7" r="3.5" fill="#ff4d27"/><circle cx="2529.9" cy="1657.1" r="3.5" fill="#ff4a26"/><circle cx="2533" cy="1656.2" r="3.5" fill="#ff4724"/><circle cx="2536.1" cy="1656.7" r="3.5" fill="#ff4422"/><circle cx="2539.3" cy="1657.5" r="3.5" fill="#ff4121"/><circle cx="2542.4" cy="1658.3" r="3.5" fill="#ff3e1f"/><circle cx="2545.6" cy="1657.5" r="3.5" fill="#ff3b1e"/><circle cx="2548.7" cy="1657.1" r="3.5" fill="#ff3b1e"/><circle cx="2551.8" cy="1657.1" r="3.5" fill="#ff381c"/><circle cx="2555" cy="1660.3" r="3.5" fill="#ff351b"/><circle cx="2558.1" cy="1665.5" r="3.5" fill="#ff3219"/><circle cx="2561.3" cy="1667.8" r="3.5" fill="#ff2f18"/><circle cx="2564.4" cy="1669.8" r="3.5" fill="#ff2c16"/><circle cx="2567.5" cy="1671.8" r="3.5" fill="#ff2914"/><circle cx="2570.7" cy="1673.3" r="3.5" fill="#ff2613"/><circle cx="2573.8" cy="1674.6" r="3.5" fill="#ff2613"/><circle cx="2577" cy="1676.1" r="3.5" fill="#ff2211"/><circle cx="2580.1" cy="1677.7" r="3.5" fill="#ff1f10"/><circle cx="2583.2" cy="1678.6" r="3.5" fill="#ff1c0e"/><circle cx="2586.4" cy="1677.9" r="3.5" fill="#ff190d"/><circle cx="2589.5" cy="1676.1" r="3.5" fill="#ff160b"/><circle cx="2592.6" cy="1673.3" r="3.5" fill="#ff1309"/><circle cx="2595.8" cy="1668.5" r="3.5" fill="#ff1309"/><circle cx="2598.9" cy="1661.3" r="3.5" fill="#ff1008"/><circle cx="2602.1" cy="1654.3" r="3.5" fill="#ff0d06"/><circle cx="2605.2" cy="1648.8" r="3.5" fill="#ff0905"/><circle cx="2608.3" cy="1644.9" r="3.5" fill="#ff0603"/><circle cx="2611.5" cy="1643.6" r="3.5" fill="#ff0302"/><circle cx="2614.6" cy="1648.2" r="3.5" fill="#ff0000"/><circle cx="2617.8" cy="1656" r="3.5" fill="#ff0000"/></g>
<g stroke="#1b1b1b" stroke-width="2" stroke-dasharray="1.78 2.93" fill="none"><path d="M1836 2002V1112"/><path d="M1993 2002V1112"/><path d="M2150 2002V1112"/><path d="M2307 2002V1112"/><path d="M2464 2002V1112"/><path d="M1679 1926H2621"/><path d="M1679 1795H2621"/><path d="M1679 1664H2621"/><path d="M1679 1533H2621"/><path d="M1679 1402H2621"/><path d="M1679 1271H2621"/><path d="M1679 1140H2621"/></g>
<g stroke="#1b1b1b" stroke-width="2" fill="none"><path d="M1679 2002v8"/><path d="M1836 2002v8"/><path d="M1993 2002v8"/><path d="M2150 2002v8"/><path d="M2307 2002v8"/><path d="M2464 2002v8"/><path d="M2621 2002v8"/><path d="M1679 1926h-8"/><path d="M1679 1795h-8"/><path d="M1679 1664h-8"/><path d="M1679 1533h-8"/><path d="M1679 1402h-8"/><path d="M1679 1271h-8"/><path d="M1679 1140h-8"/><rect x="1679" y="1112" width="942" height="890"/></g>
<rect x="2626" y="1112" width="45" height="890" fill="url(#rb)" stroke="#1b1b1b" stroke-width="2"/>
<path d="M2671 1112h8M2671 1561h8" stroke="#1b1b1b" stroke-width="2" fill="none"/>
</g>
<g font-family="'Liberation Sans',sans-serif" fill="#000">
<text transform="scale(0.6241 0.5678)" font-size="100"><tspan x="943.3" y="1859.7" font-size="100.0" font-style="italic">x</tspan><tspan x="1060.8" y="1854.2" font-size="94.5">[</tspan><tspan x="1101.1" y="1860.6" font-size="105.1" font-style="italic">μ</tspan><tspan x="1189.2" y="1859.3" font-size="100.0" font-style="italic">m</tspan><tspan x="1287.7" y="1854.2" font-size="94.5">]</tspan></text>
<text transform="scale(0.5566 0.5814)" font-size="100"><tspan x="282.8" y="1717.4" font-size="129.4">−</tspan><tspan x="364.3" y="1704.5" font-size="100.0">1</tspan><tspan x="426.8" y="1704.0" font-size="100.0">5</tspan><tspan x="491.4" y="1704.5" font-size="100.0">0</tspan></text>
<text transform="scale(0.5857 0.5932)" font-size="100"><tspan x="536.8" y="1682.0" font-size="123.0">−</tspan><tspan x="612.7" y="1671.2" font-size="100.0">1</tspan><tspan x="672.2" y="1671.3" font-size="100.0">0</tspan><tspan x="733.6" y="1671.3" font-size="100.0">0</tspan></text>
<text transform="scale(0.5772 0.5832)" font-size="100"><tspan x="848.0" y="1710.6" font-size="124.8">−</tspan><tspan x="925.2" y="1698.7" font-size="100.0">5</tspan><tspan x="986.6" y="1699.3" font-size="100.0">0</tspan></text>
<text transform="scale(0.5857 0.5932)" font-size="100" x="1170.7" y="1671.3">0</text>
<text transform="scale(0.5776 0.5832)" font-size="100" x="1427.4 1487.0" y="1698.7 1699.3">50</text>
<text transform="scale(0.5857 0.5932)" font-size="100" x="1643.9 1703.3 1763.1" y="1671.2 1671.3 1671.3">100</text>
<text transform="scale(0.5566 0.5814)" font-size="100" x="2013.4 2076.0 2138.7" y="1704.5 1704.0 1704.5">150</text>
<text transform="rotate(-90) scale(0.6086 0.5572)" font-size="100"><tspan x="-989.6" y="69.0" font-size="100.0" font-style="italic">y</tspan><tspan x="-869.6" y="65.3" font-size="100.0">[</tspan><tspan x="-827.7" y="71.0" font-size="107.2" font-style="italic">μ</tspan><tspan x="-736.8" y="69.1" font-size="100.0" font-style="italic">m</tspan><tspan x="-636.7" y="65.3" font-size="100.0">]</tspan></text>
<text transform="scale(0.5566 0.5814)" font-size="100"><tspan x="117.6" y="1655.5" font-size="129.4">−</tspan><tspan x="199.0" y="1642.6" font-size="100.0">1</tspan><tspan x="261.5" y="1642.1" font-size="100.0">5</tspan><tspan x="326.1" y="1642.6" font-size="100.0">0</tspan></text>
<text transform="scale(0.5857 0.5932)" font-size="100"><tspan x="111.7" y="1371.8" font-size="123.0">−</tspan><tspan x="187.6" y="1361.1" font-size="100.0">1</tspan><tspan x="247.1" y="1361.1" font-size="100.0">0</tspan><tspan x="308.5" y="1361.1" font-size="100.0">0</tspan></text>
<text transform="scale(0.5772 0.5832)" font-size="100"><tspan x="175.8" y="1139.7" font-size="124.8">−</tspan><tspan x="253.0" y="1127.8" font-size="100.0">5</tspan><tspan x="314.4" y="1128.3" font-size="100.0">0</tspan></text>
<text transform="scale(0.5857 0.5932)" font-size="100" x="310.2" y="860.4">0</text>
<text transform="scale(0.5776 0.5832)" font-size="100" x="253.6 313.2" y="618.6 619.1">50</text>
<text transform="scale(0.5857 0.5932)" font-size="100" x="187.6 247.1 306.8" y="359.7 359.8 359.8">100</text>
<text transform="scale(0.5566 0.5814)" font-size="100" x="199.0 261.5 324.3" y="111.8 111.3 111.8">150</text>
<text transform="rotate(-90) scale(0.5567 0.5364)" font-size="100"><tspan x="-999.8" y="2616.3" font-size="110.8" font-style="italic">t</tspan><tspan x="-932.3" y="2609.7" font-size="100.0">[</tspan><tspan x="-900.8" y="2615.6" font-size="108.4" font-style="italic">T</tspan><tspan x="-834.7" y="2633.4" font-size="81.6">0</tspan><tspan x="-777.8" y="2609.7" font-size="100.0">]</tspan></text>
<text transform="scale(0.4311 0.4402)" font-size="100"><tspan x="2872.9" y="1154.4" font-size="100.0">1</tspan><tspan x="2930.3" y="1154.4" font-size="100.0">4</tspan><tspan x="2989.2" y="1154.4" font-size="100.0">9</tspan><tspan x="3047.4" y="1154.1" font-size="106.2">.</tspan><tspan x="3077.4" y="1155.1" font-size="100.0">5</tspan></text>
<text transform="scale(0.4257 0.4520)" font-size="100" x="2911.0 2969.7 3029.7 3089.4 3120.1" y="131.2 131.8 131.8 130.4 131.8">299.0</text>
<text transform="scale(0.5535 0.5364)" font-size="100"><tspan x="3754.7" y="1968.7" font-size="109.4" font-style="italic">v</tspan><tspan x="3813.8" y="1983.6" font-size="74.1" font-style="italic">x</tspan><tspan x="3891.6" y="1961.0" font-size="100.0">[</tspan><tspan x="3930.9" y="1967.6" font-size="108.9" font-style="italic">c</tspan><tspan x="3992.8" y="1961.0" font-size="100.0">]</tspan></text>
<text transform="scale(0.6067 0.5932)" font-size="100"><tspan x="3439.5" y="1671.3" font-size="100.0">0</tspan><tspan x="3499.0" y="1670.6" font-size="110.4">.</tspan><tspan x="3530.2" y="1671.3" font-size="100.0">0</tspan><tspan x="3588.7" y="1671.3" font-size="100.0">0</tspan></text>
<text transform="scale(0.5707 0.5872)" font-size="100"><tspan x="3870.8" y="1688.1" font-size="100.0">0</tspan><tspan x="3926.9" y="1687.7" font-size="111.5">.</tspan><tspan x="3960.2" y="1687.7" font-size="100.0">2</tspan><tspan x="4023.3" y="1687.6" font-size="100.0">5</tspan></text>
<text transform="scale(0.5857 0.5932)" font-size="100"><tspan x="3970.5" y="1671.3" font-size="100.0">0</tspan><tspan x="4025.7" y="1670.6" font-size="110.4">.</tspan><tspan x="4057.7" y="1670.8" font-size="100.0">5</tspan><tspan x="4119.1" y="1671.3" font-size="100.0">0</tspan></text>
<text transform="scale(0.5741 0.5814)" font-size="100"><tspan x="4257.3" y="1704.5" font-size="100.0">0</tspan><tspan x="4313.0" y="1704.5" font-size="112.6">.</tspan><tspan x="4346.1" y="1704.5" font-size="100.0">7</tspan><tspan x="4408.1" y="1704.0" font-size="100.0">5</tspan></text>
<text transform="scale(0.5857 0.5932)" font-size="100"><tspan x="4370.4" y="1671.2" font-size="100.0">1</tspan><tspan x="4426.9" y="1670.6" font-size="110.4">.</tspan><tspan x="4459.7" y="1671.3" font-size="100.0">0</tspan><tspan x="4520.3" y="1671.3" font-size="100.0">0</tspan></text>
<text transform="rotate(-90) scale(0.5437 0.5364)" font-size="100"><tspan x="-1032.6" y="2731.1" font-size="109.4" font-style="italic">v</tspan><tspan x="-972.7" y="2745.7" font-size="73.5" font-style="italic">y</tspan><tspan x="-893.5" y="2723.4" font-size="100.0">[</tspan><tspan x="-853.3" y="2730.1" font-size="108.9" font-style="italic">c</tspan><tspan x="-790.6" y="2723.4" font-size="100.0">]</tspan></text>
<text transform="scale(0.5719 0.5814)" font-size="100"><tspan x="2618.2" y="1463.4" font-size="126.0">−</tspan><tspan x="2696.2" y="1451.7" font-size="100.0">0</tspan><tspan x="2754.7" y="1451.7" font-size="112.6">.</tspan><tspan x="2788.9" y="1451.7" font-size="100.0">7</tspan><tspan x="2850.2" y="1451.2" font-size="100.0">5</tspan></text>
<text transform="scale(0.5857 0.5932)" font-size="100"><tspan x="2556.5" y="1245.4" font-size="123.0">−</tspan><tspan x="2632.1" y="1234.7" font-size="100.0">0</tspan><tspan x="2689.8" y="1234.0" font-size="110.4">.</tspan><tspan x="2722.7" y="1234.2" font-size="100.0">5</tspan><tspan x="2782.3" y="1234.7" font-size="100.0">0</tspan></text>
<text transform="scale(0.5707 0.5872)" font-size="100"><tspan x="2622.0" y="1069.8" font-size="126.2">−</tspan><tspan x="2700.3" y="1057.9" font-size="100.0">0</tspan><tspan x="2759.1" y="1057.6" font-size="111.5">.</tspan><tspan x="2791.4" y="1057.6" font-size="100.0">2</tspan><tspan x="2854.6" y="1057.4" font-size="100.0">5</tspan></text>
<text transform="scale(0.5857 0.5932)" font-size="100"><tspan x="2633.8" y="860.4" font-size="100.0">0</tspan><tspan x="2688.9" y="859.7" font-size="110.4">.</tspan><tspan x="2721.7" y="860.4" font-size="100.0">0</tspan><tspan x="2782.3" y="860.4" font-size="100.0">0</tspan></text>
<text transform="scale(0.5707 0.5872)" font-size="100"><tspan x="2703.8" y="679.9" font-size="100.0">0</tspan><tspan x="2760.0" y="679.5" font-size="111.5">.</tspan><tspan x="2793.2" y="679.5" font-size="100.0">2</tspan><tspan x="2856.4" y="679.4" font-size="100.0">5</tspan></text>
<text transform="scale(0.5857 0.5932)" font-size="100"><tspan x="2633.8" y="484.5" font-size="100.0">0</tspan><tspan x="2688.9" y="483.8" font-size="110.4">.</tspan><tspan x="2720.9" y="484.0" font-size="100.0">5</tspan><tspan x="2782.3" y="484.5" font-size="100.0">0</tspan></text>
<text transform="scale(0.5741 0.5814)" font-size="100"><tspan x="2687.8" y="302.7" font-size="100.0">0</tspan><tspan x="2743.6" y="302.7" font-size="112.6">.</tspan><tspan x="2776.6" y="302.7" font-size="100.0">7</tspan><tspan x="2838.6" y="302.2" font-size="100.0">5</tspan></text>
<text transform="scale(0.5857 0.5932)" font-size="100"><tspan x="2630.7" y="110.3" font-size="100.0">1</tspan><tspan x="2687.2" y="109.6" font-size="110.4">.</tspan><tspan x="2720.0" y="110.3" font-size="100.0">0</tspan><tspan x="2780.6" y="110.3" font-size="100.0">0</tspan></text>
<text transform="rotate(-90) scale(0.5567 0.5364)" font-size="100"><tspan x="-999.8" y="5317.6" font-size="110.8" font-style="italic">t</tspan><tspan x="-932.3" y="5311.0" font-size="100.0">[</tspan><tspan x="-900.8" y="5316.9" font-size="108.4" font-style="italic">T</tspan><tspan x="-834.7" y="5334.7" font-size="81.6">0</tspan><tspan x="-777.8" y="5311.0" font-size="100.0">]</tspan></text>
<text transform="scale(0.4311 0.4402)" font-size="100"><tspan x="6234.4" y="1154.4" font-size="100.0">1</tspan><tspan x="6291.7" y="1154.4" font-size="100.0">4</tspan><tspan x="6350.6" y="1154.4" font-size="100.0">9</tspan><tspan x="6408.8" y="1154.1" font-size="106.2">.</tspan><tspan x="6438.8" y="1155.1" font-size="100.0">5</tspan></text>
<text transform="scale(0.4257 0.4520)" font-size="100" x="6312.6 6371.3 6431.2 6490.9 6521.7" y="131.2 131.8 131.8 130.4 131.8">299.0</text>
<text transform="scale(0.6228 0.5761)" font-size="100"><tspan x="994.0" y="3686.8" font-size="100.0" font-style="italic">r</tspan><tspan x="1055.9" y="3681.3" font-size="93.1">[</tspan><tspan x="1090.4" y="3687.1" font-size="100.0" font-style="italic">μ</tspan><tspan x="1148.0" y="3686.7" font-size="100.0" font-style="italic">m</tspan><tspan x="1240.8" y="3681.3" font-size="93.1">]</tspan></text>
<text transform="scale(0.5857 0.5932)" font-size="100" x="366.6" y="3473.3">0</text>
<text transform="scale(0.5782 0.5902)" font-size="100" x="556.8 617.3" y="3490.5 3490.9">20</text>
<text transform="scale(0.5806 0.5946)" font-size="100" x="772.5 831.6" y="3466.3 3465.4">40</text>
<text transform="scale(0.5963 0.5932)" font-size="100" x="963.0 1020.4" y="3473.3 3473.3">60</text>
<text transform="scale(0.5912 0.5932)" font-size="100" x="1183.2 1240.7" y="3473.3 3473.3">80</text>
<text transform="scale(0.5857 0.5932)" font-size="100" x="1375.9 1435.3 1495.1" y="3473.3 3473.3 3473.3">100</text>
<text transform="scale(0.5707 0.5872)" font-size="100" x="1633.6 1692.8 1755.9" y="3508.6 3508.2 3508.6">120</text>
<text transform="scale(0.5857 0.5932)" font-size="100" x="1804.4 1864.1 1923.6" y="3473.3 3474.1 3473.3">140</text>
<text transform="rotate(-90) scale(0.5535 0.5364)" font-size="100"><tspan x="-2938.9" y="44.7" font-size="109.4" font-style="italic">v</tspan><tspan x="-2879.0" y="59.7" font-size="76.2" font-style="italic">r</tspan><tspan x="-2814.6" y="37.0" font-size="100.0">[</tspan><tspan x="-2777.2" y="43.7" font-size="108.9" font-style="italic">c</tspan><tspan x="-2713.5" y="37.0" font-size="100.0">]</tspan></text>
<text transform="scale(0.5857 0.5932)" font-size="100"><tspan x="82.7" y="3421.6" font-size="123.0">−</tspan><tspan x="158.6" y="3410.9" font-size="100.0">1</tspan><tspan x="216.0" y="3410.2" font-size="110.4">.</tspan><tspan x="248.8" y="3410.9" font-size="100.0">0</tspan><tspan x="308.5" y="3410.9" font-size="100.0">0</tspan></text>
<text transform="scale(0.5719 0.5814)" font-size="100"><tspan x="84.7" y="3300.4" font-size="126.0">−</tspan><tspan x="162.8" y="3288.6" font-size="100.0">0</tspan><tspan x="221.3" y="3288.6" font-size="112.6">.</tspan><tspan x="255.4" y="3288.6" font-size="100.0">7</tspan><tspan x="316.7" y="3288.1" font-size="100.0">5</tspan></text>
<text transform="scale(0.5857 0.5932)" font-size="100"><tspan x="82.7" y="3047.4" font-size="123.0">−</tspan><tspan x="158.3" y="3036.7" font-size="100.0">0</tspan><tspan x="216.0" y="3036.0" font-size="110.4">.</tspan><tspan x="248.9" y="3036.2" font-size="100.0">5</tspan><tspan x="308.5" y="3036.7" font-size="100.0">0</tspan></text>
<text transform="scale(0.5707 0.5872)" font-size="100"><tspan x="84.9" y="2888.6" font-size="126.2">−</tspan><tspan x="163.2" y="2876.8" font-size="100.0">0</tspan><tspan x="221.9" y="2876.4" font-size="111.5">.</tspan><tspan x="254.3" y="2876.4" font-size="100.0">2</tspan><tspan x="317.5" y="2876.3" font-size="100.0">5</tspan></text>
<text transform="scale(0.5857 0.5932)" font-size="100"><tspan x="160.0" y="2660.8" font-size="100.0">0</tspan><tspan x="215.1" y="2660.1" font-size="110.4">.</tspan><tspan x="247.9" y="2660.8" font-size="100.0">0</tspan><tspan x="308.5" y="2660.8" font-size="100.0">0</tspan></text>
<text transform="scale(0.5707 0.5872)" font-size="100"><tspan x="164.9" y="2498.7" font-size="100.0">0</tspan><tspan x="221.1" y="2498.3" font-size="111.5">.</tspan><tspan x="254.3" y="2498.3" font-size="100.0">2</tspan><tspan x="317.5" y="2498.2" font-size="100.0">5</tspan></text>
<text transform="scale(0.5857 0.5932)" font-size="100"><tspan x="160.0" y="2286.6" font-size="100.0">0</tspan><tspan x="215.1" y="2285.9" font-size="110.4">.</tspan><tspan x="247.2" y="2286.1" font-size="100.0">5</tspan><tspan x="308.5" y="2286.6" font-size="100.0">0</tspan></text>
<text transform="scale(0.5741 0.5814)" font-size="100"><tspan x="163.8" y="2139.7" font-size="100.0">0</tspan><tspan x="219.5" y="2139.6" font-size="112.6">.</tspan><tspan x="252.6" y="2139.6" font-size="100.0">7</tspan><tspan x="314.6" y="2139.2" font-size="100.0">5</tspan></text>
<text transform="scale(0.5857 0.5932)" font-size="100"><tspan x="158.6" y="1910.6" font-size="100.0">1</tspan><tspan x="215.1" y="1909.9" font-size="110.4">.</tspan><tspan x="247.9" y="1910.6" font-size="100.0">0</tspan><tspan x="308.5" y="1910.6" font-size="100.0">0</tspan></text>
<text transform="rotate(-90) scale(0.5567 0.5364)" font-size="100"><tspan x="-2918.3" y="2616.3" font-size="110.8" font-style="italic">t</tspan><tspan x="-2850.9" y="2609.7" font-size="100.0">[</tspan><tspan x="-2819.3" y="2615.6" font-size="108.4" font-style="italic">T</tspan><tspan x="-2753.2" y="2633.4" font-size="81.6">0</tspan><tspan x="-2696.3" y="2609.7" font-size="100.0">]</tspan></text>
<text transform="scale(0.4311 0.4402)" font-size="100"><tspan x="2872.9" y="3580.8" font-size="100.0">1</tspan><tspan x="2930.3" y="3580.8" font-size="100.0">4</tspan><tspan x="2989.2" y="3580.8" font-size="100.0">9</tspan><tspan x="3047.4" y="3580.4" font-size="106.2">.</tspan><tspan x="3077.4" y="3581.4" font-size="100.0">5</tspan></text>
<text transform="scale(0.4257 0.4520)" font-size="100" x="2911.0 2969.7 3029.7 3089.4 3120.1" y="2494.1 2494.8 2494.8 2493.3 2494.8">299.0</text>
<text transform="scale(0.5567 0.5364)" font-size="100"><tspan x="3742.7" y="3958.6" font-size="110.8" font-style="italic">t</tspan><tspan x="3810.2" y="3952.0" font-size="100.0">[</tspan><tspan x="3841.7" y="3957.8" font-size="108.4" font-style="italic">T</tspan><tspan x="3907.8" y="3975.7" font-size="81.6">0</tspan><tspan x="3964.7" y="3952.0" font-size="100.0">]</tspan></text>
<text transform="scale(0.5857 0.5932)" font-size="100" x="2840.4" y="3473.3">0</text>
<text transform="scale(0.5776 0.5832)" font-size="100" x="3120.5 3180.1" y="3531.6 3532.1">50</text>
<text transform="scale(0.5857 0.5932)" font-size="100" x="3313.6 3373.0 3432.8" y="3473.3 3473.3 3473.3">100</text>
<text transform="scale(0.5566 0.5814)" font-size="100" x="3770.4 3832.9 3895.7" y="3543.1 3542.7 3543.2">150</text>
<text transform="scale(0.5857 0.5932)" font-size="100" x="3849.3 3909.1 3968.8" y="3473.0 3473.3 3473.3">200</text>
<text transform="scale(0.5707 0.5872)" font-size="100" x="4226.5 4287.9 4349.1" y="3508.2 3508.1 3508.6">250</text>
<text transform="scale(0.5857 0.5932)" font-size="100" x="4386.6 4445.2 4504.9" y="3473.3 3473.3 3473.3">300</text>
<text transform="rotate(-90) scale(0.5845 0.5766)" font-size="100"><tspan x="-2956.8" y="2613.1" font-size="100.0" font-style="italic">E</tspan><tspan x="-2891.2" y="2613.2" font-size="100.0" font-style="italic">k</tspan><tspan x="-2810.9" y="2613.1" font-size="100.0" font-style="italic">W</tspan><tspan x="-2680.7" y="2608.0" font-size="93.0">[</tspan><tspan x="-2642.5" y="2613.4" font-size="100.0" font-style="italic">m</tspan><tspan x="-2554.0" y="2630.0" font-size="72.8" font-style="italic">e</tspan><tspan x="-2507.8" y="2613.8" font-size="100.0" font-style="italic">c</tspan><tspan x="-2453.7" y="2577.0" font-size="74.5">2</tspan><tspan x="-2400.2" y="2608.0" font-size="93.0">]</tspan></text>
<text transform="scale(0.5782 0.5902)" font-size="100"><tspan x="2650.3" y="3310.7" font-size="124.6">−</tspan><tspan x="2727.3" y="3299.4" font-size="100.0">0</tspan><tspan x="2785.5" y="3298.9" font-size="110.9">.</tspan><tspan x="2817.2" y="3299.1" font-size="100.0">2</tspan></text>
<text transform="scale(0.5962 0.5932)" font-size="100"><tspan x="2645.8" y="3062.0" font-size="100.0">0</tspan><tspan x="2700.2" y="3061.3" font-size="110.4">.</tspan><tspan x="2732.2" y="3062.0" font-size="100.0">0</tspan></text>
<text transform="scale(0.5782 0.5902)" font-size="100"><tspan x="2729.0" y="2855.5" font-size="100.0">0</tspan><tspan x="2784.6" y="2855.0" font-size="110.9">.</tspan><tspan x="2817.2" y="2855.1" font-size="100.0">2</tspan></text>
<text transform="scale(0.5806 0.5946)" font-size="100"><tspan x="2717.5" y="2614.4" font-size="100.0">0</tspan><tspan x="2773.0" y="2613.6" font-size="110.1">.</tspan><tspan x="2806.5" y="2615.2" font-size="100.0">4</tspan></text>
<text transform="scale(0.5963 0.5932)" font-size="100"><tspan x="2645.4" y="2399.5" font-size="100.0">0</tspan><tspan x="2699.8" y="2398.8" font-size="110.4">.</tspan><tspan x="2732.3" y="2399.5" font-size="100.0">6</tspan></text>
<text transform="scale(0.5806 0.5932)" font-size="100"><tspan x="2717.8" y="2178.7" font-size="100.0">0</tspan><tspan x="2773.3" y="2178.0" font-size="110.4">.</tspan><tspan x="2806.5" y="2178.7" font-size="100.0">8</tspan></text>
<text transform="scale(0.5815 0.5873)" font-size="100"><tspan x="2712.2" y="1977.2" font-size="100.0">1</tspan><tspan x="2768.9" y="1976.8" font-size="111.5">.</tspan><tspan x="2802.1" y="1977.2" font-size="100.0">0</tspan></text>
<text transform="rotate(-90) scale(0.5567 0.5364)" font-size="100"><tspan x="-2918.3" y="5317.6" font-size="110.8" font-style="italic">t</tspan><tspan x="-2850.9" y="5311.0" font-size="100.0">[</tspan><tspan x="-2819.3" y="5316.9" font-size="108.4" font-style="italic">T</tspan><tspan x="-2753.2" y="5334.7" font-size="81.6">0</tspan><tspan x="-2696.3" y="5311.0" font-size="100.0">]</tspan></text>
<text transform="scale(0.4311 0.4402)" font-size="100"><tspan x="6234.4" y="3580.8" font-size="100.0">1</tspan><tspan x="6291.7" y="3580.8" font-size="100.0">4</tspan><tspan x="6350.6" y="3580.8" font-size="100.0">9</tspan><tspan x="6408.8" y="3580.4" font-size="106.2">.</tspan><tspan x="6438.8" y="3581.4" font-size="100.0">5</tspan></text>
<text transform="scale(0.4257 0.4520)" font-size="100" x="6312.6 6371.3 6431.2 6490.9 6521.7" y="2494.1 2494.8 2494.8 2493.3 2494.8">299.0</text>
<text transform="scale(0.5857 0.5932)" font-size="100"><tspan x="2727.7" y="1682.5" font-size="123.0">−</tspan><tspan x="2803.6" y="1671.8" font-size="100.0">1</tspan><tspan x="2861.0" y="1671.1" font-size="110.4">.</tspan><tspan x="2893.7" y="1671.8" font-size="100.0">0</tspan><tspan x="2953.5" y="1671.8" font-size="100.0">0</tspan></text>
<text transform="scale(0.5719 0.5814)" font-size="100"><tspan x="2999.8" y="1717.7" font-size="126.0">−</tspan><tspan x="3077.9" y="1705.9" font-size="100.0">0</tspan><tspan x="3136.4" y="1705.9" font-size="112.6">.</tspan><tspan x="3170.5" y="1705.9" font-size="100.0">7</tspan><tspan x="3231.8" y="1705.4" font-size="100.0">5</tspan></text>
<text transform="scale(0.5857 0.5932)" font-size="100"><tspan x="3130.1" y="1682.1" font-size="123.0">−</tspan><tspan x="3205.7" y="1671.4" font-size="100.0">0</tspan><tspan x="3263.4" y="1670.7" font-size="110.4">.</tspan><tspan x="3296.3" y="1670.9" font-size="100.0">5</tspan><tspan x="3355.9" y="1671.4" font-size="100.0">0</tspan></text>
<text transform="scale(0.5707 0.5872)" font-size="100"><tspan x="3417.1" y="1700.5" font-size="126.2">−</tspan><tspan x="3495.4" y="1688.7" font-size="100.0">0</tspan><tspan x="3554.1" y="1688.3" font-size="111.5">.</tspan><tspan x="3586.5" y="1688.3" font-size="100.0">2</tspan><tspan x="3649.7" y="1688.2" font-size="100.0">5</tspan></text>
<text transform="scale(0.5857 0.5932)" font-size="100"><tspan x="2556.1" y="1620.9" font-size="123.0">−</tspan><tspan x="2632.0" y="1610.2" font-size="100.0">1</tspan><tspan x="2689.4" y="1609.5" font-size="110.4">.</tspan><tspan x="2722.2" y="1610.2" font-size="100.0">0</tspan><tspan x="2781.9" y="1610.2" font-size="100.0">0</tspan></text>
</g>
</svg>
</body></html>
